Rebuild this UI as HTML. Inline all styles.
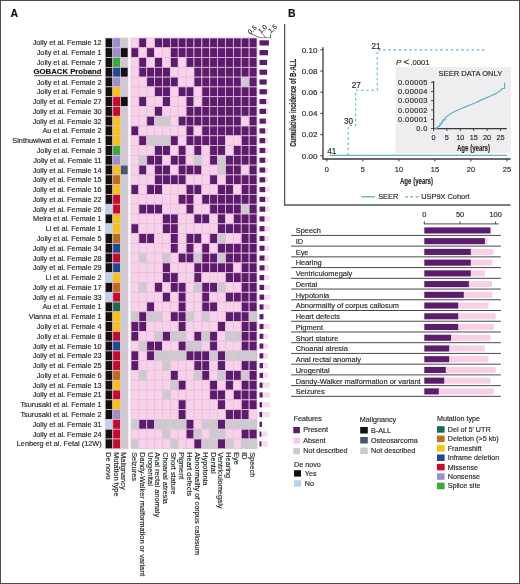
<!DOCTYPE html>
<html><head><meta charset="utf-8"><title>Figure</title>
<style>html,body{margin:0;padding:0;background:#fff;}body{width:520px;height:584px;position:relative;overflow:hidden;font-family:"Liberation Sans", sans-serif;} text{stroke:#2b2b2b;stroke-width:0.17px;}</style>
</head><body>
<svg width="520" height="584" viewBox="0 0 520 584" style="position:absolute;left:0;top:0;will-change:transform">
<g font-family='"Liberation Sans", sans-serif' fill="#2b2b2b" stroke="none">
<text x="10.6" y="17" font-size="10.5" font-weight="bold" fill="#111">A</text>
<text x="288" y="17.2" font-size="10.5" font-weight="bold" fill="#111">B</text>
<text x="101.6" y="45.39" font-size="7.3" text-anchor="end">Jolly et al. Female 12</text>
<rect x="105.20" y="38.00" width="7.60" height="9.78" fill="#111111" stroke="#e2c2dc" stroke-width="0.7"/>
<rect x="112.80" y="38.00" width="7.60" height="9.78" fill="#9990cf" stroke="#e2c2dc" stroke-width="0.7"/>
<rect x="120.40" y="38.00" width="7.60" height="9.78" fill="#cbcbce" stroke="#e2c2dc" stroke-width="0.7"/>
<rect x="131.00" y="38.00" width="7.875" height="9.78" fill="#f9d1e9" stroke="#e2c2dc" stroke-width="0.8"/>
<rect x="138.88" y="38.00" width="7.875" height="9.78" fill="#5d1b6d" stroke="#e2c2dc" stroke-width="0.8"/>
<rect x="146.75" y="38.00" width="7.875" height="9.78" fill="#f9d1e9" stroke="#e2c2dc" stroke-width="0.8"/>
<rect x="154.62" y="38.00" width="7.875" height="9.78" fill="#5d1b6d" stroke="#e2c2dc" stroke-width="0.8"/>
<rect x="162.50" y="38.00" width="7.875" height="9.78" fill="#5d1b6d" stroke="#e2c2dc" stroke-width="0.8"/>
<rect x="170.38" y="38.00" width="7.875" height="9.78" fill="#5d1b6d" stroke="#e2c2dc" stroke-width="0.8"/>
<rect x="178.25" y="38.00" width="7.875" height="9.78" fill="#5d1b6d" stroke="#e2c2dc" stroke-width="0.8"/>
<rect x="186.12" y="38.00" width="7.875" height="9.78" fill="#5d1b6d" stroke="#e2c2dc" stroke-width="0.8"/>
<rect x="194.00" y="38.00" width="7.875" height="9.78" fill="#5d1b6d" stroke="#e2c2dc" stroke-width="0.8"/>
<rect x="201.88" y="38.00" width="7.875" height="9.78" fill="#5d1b6d" stroke="#e2c2dc" stroke-width="0.8"/>
<rect x="209.75" y="38.00" width="7.875" height="9.78" fill="#5d1b6d" stroke="#e2c2dc" stroke-width="0.8"/>
<rect x="217.62" y="38.00" width="7.875" height="9.78" fill="#5d1b6d" stroke="#e2c2dc" stroke-width="0.8"/>
<rect x="225.50" y="38.00" width="7.875" height="9.78" fill="#5d1b6d" stroke="#e2c2dc" stroke-width="0.8"/>
<rect x="233.38" y="38.00" width="7.875" height="9.78" fill="#5d1b6d" stroke="#e2c2dc" stroke-width="0.8"/>
<rect x="241.25" y="38.00" width="7.875" height="9.78" fill="#5d1b6d" stroke="#e2c2dc" stroke-width="0.8"/>
<rect x="249.12" y="38.00" width="7.875" height="9.78" fill="#5d1b6d" stroke="#e2c2dc" stroke-width="0.8"/>
<text x="101.6" y="55.17" font-size="7.3" text-anchor="end">Jolly et al. Female 1</text>
<rect x="105.20" y="47.78" width="7.60" height="9.78" fill="#111111" stroke="#e2c2dc" stroke-width="0.7"/>
<rect x="112.80" y="47.78" width="7.60" height="9.78" fill="#9990cf" stroke="#e2c2dc" stroke-width="0.7"/>
<rect x="120.40" y="47.78" width="7.60" height="9.78" fill="#111111" stroke="#e2c2dc" stroke-width="0.7"/>
<rect x="131.00" y="47.78" width="7.875" height="9.78" fill="#5d1b6d" stroke="#e2c2dc" stroke-width="0.8"/>
<rect x="138.88" y="47.78" width="7.875" height="9.78" fill="#f9d1e9" stroke="#e2c2dc" stroke-width="0.8"/>
<rect x="146.75" y="47.78" width="7.875" height="9.78" fill="#5d1b6d" stroke="#e2c2dc" stroke-width="0.8"/>
<rect x="154.62" y="47.78" width="7.875" height="9.78" fill="#f9d1e9" stroke="#e2c2dc" stroke-width="0.8"/>
<rect x="162.50" y="47.78" width="7.875" height="9.78" fill="#f9d1e9" stroke="#e2c2dc" stroke-width="0.8"/>
<rect x="170.38" y="47.78" width="7.875" height="9.78" fill="#5d1b6d" stroke="#e2c2dc" stroke-width="0.8"/>
<rect x="178.25" y="47.78" width="7.875" height="9.78" fill="#5d1b6d" stroke="#e2c2dc" stroke-width="0.8"/>
<rect x="186.12" y="47.78" width="7.875" height="9.78" fill="#5d1b6d" stroke="#e2c2dc" stroke-width="0.8"/>
<rect x="194.00" y="47.78" width="7.875" height="9.78" fill="#5d1b6d" stroke="#e2c2dc" stroke-width="0.8"/>
<rect x="201.88" y="47.78" width="7.875" height="9.78" fill="#5d1b6d" stroke="#e2c2dc" stroke-width="0.8"/>
<rect x="209.75" y="47.78" width="7.875" height="9.78" fill="#5d1b6d" stroke="#e2c2dc" stroke-width="0.8"/>
<rect x="217.62" y="47.78" width="7.875" height="9.78" fill="#5d1b6d" stroke="#e2c2dc" stroke-width="0.8"/>
<rect x="225.50" y="47.78" width="7.875" height="9.78" fill="#5d1b6d" stroke="#e2c2dc" stroke-width="0.8"/>
<rect x="233.38" y="47.78" width="7.875" height="9.78" fill="#5d1b6d" stroke="#e2c2dc" stroke-width="0.8"/>
<rect x="241.25" y="47.78" width="7.875" height="9.78" fill="#5d1b6d" stroke="#e2c2dc" stroke-width="0.8"/>
<rect x="249.12" y="47.78" width="7.875" height="9.78" fill="#5d1b6d" stroke="#e2c2dc" stroke-width="0.8"/>
<text x="101.6" y="64.95" font-size="7.3" text-anchor="end">Jolly et al. Female 7</text>
<rect x="105.20" y="57.56" width="7.60" height="9.78" fill="#111111" stroke="#e2c2dc" stroke-width="0.7"/>
<rect x="112.80" y="57.56" width="7.60" height="9.78" fill="#3bab37" stroke="#e2c2dc" stroke-width="0.7"/>
<rect x="120.40" y="57.56" width="7.60" height="9.78" fill="#cbcbce" stroke="#e2c2dc" stroke-width="0.7"/>
<rect x="131.00" y="57.56" width="7.875" height="9.78" fill="#f9d1e9" stroke="#e2c2dc" stroke-width="0.8"/>
<rect x="138.88" y="57.56" width="7.875" height="9.78" fill="#5d1b6d" stroke="#e2c2dc" stroke-width="0.8"/>
<rect x="146.75" y="57.56" width="7.875" height="9.78" fill="#f9d1e9" stroke="#e2c2dc" stroke-width="0.8"/>
<rect x="154.62" y="57.56" width="7.875" height="9.78" fill="#5d1b6d" stroke="#e2c2dc" stroke-width="0.8"/>
<rect x="162.50" y="57.56" width="7.875" height="9.78" fill="#f9d1e9" stroke="#e2c2dc" stroke-width="0.8"/>
<rect x="170.38" y="57.56" width="7.875" height="9.78" fill="#5d1b6d" stroke="#e2c2dc" stroke-width="0.8"/>
<rect x="178.25" y="57.56" width="7.875" height="9.78" fill="#f9d1e9" stroke="#e2c2dc" stroke-width="0.8"/>
<rect x="186.12" y="57.56" width="7.875" height="9.78" fill="#5d1b6d" stroke="#e2c2dc" stroke-width="0.8"/>
<rect x="194.00" y="57.56" width="7.875" height="9.78" fill="#5d1b6d" stroke="#e2c2dc" stroke-width="0.8"/>
<rect x="201.88" y="57.56" width="7.875" height="9.78" fill="#5d1b6d" stroke="#e2c2dc" stroke-width="0.8"/>
<rect x="209.75" y="57.56" width="7.875" height="9.78" fill="#5d1b6d" stroke="#e2c2dc" stroke-width="0.8"/>
<rect x="217.62" y="57.56" width="7.875" height="9.78" fill="#5d1b6d" stroke="#e2c2dc" stroke-width="0.8"/>
<rect x="225.50" y="57.56" width="7.875" height="9.78" fill="#5d1b6d" stroke="#e2c2dc" stroke-width="0.8"/>
<rect x="233.38" y="57.56" width="7.875" height="9.78" fill="#5d1b6d" stroke="#e2c2dc" stroke-width="0.8"/>
<rect x="241.25" y="57.56" width="7.875" height="9.78" fill="#5d1b6d" stroke="#e2c2dc" stroke-width="0.8"/>
<rect x="249.12" y="57.56" width="7.875" height="9.78" fill="#5d1b6d" stroke="#e2c2dc" stroke-width="0.8"/>
<text x="101.6" y="74.43" font-size="7.75" font-weight="bold" text-anchor="end" fill="#111">GOBACK Proband</text>
<rect x="34.0" y="75.33" width="67.6" height="0.8" fill="#222"/>
<rect x="105.20" y="67.34" width="7.60" height="9.78" fill="#111111" stroke="#e2c2dc" stroke-width="0.7"/>
<rect x="112.80" y="67.34" width="7.60" height="9.78" fill="#1d4a95" stroke="#e2c2dc" stroke-width="0.7"/>
<rect x="120.40" y="67.34" width="7.60" height="9.78" fill="#111111" stroke="#e2c2dc" stroke-width="0.7"/>
<rect x="131.00" y="67.34" width="7.875" height="9.78" fill="#f9d1e9" stroke="#e2c2dc" stroke-width="0.8"/>
<rect x="138.88" y="67.34" width="7.875" height="9.78" fill="#5d1b6d" stroke="#e2c2dc" stroke-width="0.8"/>
<rect x="146.75" y="67.34" width="7.875" height="9.78" fill="#5d1b6d" stroke="#e2c2dc" stroke-width="0.8"/>
<rect x="154.62" y="67.34" width="7.875" height="9.78" fill="#5d1b6d" stroke="#e2c2dc" stroke-width="0.8"/>
<rect x="162.50" y="67.34" width="7.875" height="9.78" fill="#5d1b6d" stroke="#e2c2dc" stroke-width="0.8"/>
<rect x="170.38" y="67.34" width="7.875" height="9.78" fill="#f9d1e9" stroke="#e2c2dc" stroke-width="0.8"/>
<rect x="178.25" y="67.34" width="7.875" height="9.78" fill="#f9d1e9" stroke="#e2c2dc" stroke-width="0.8"/>
<rect x="186.12" y="67.34" width="7.875" height="9.78" fill="#f9d1e9" stroke="#e2c2dc" stroke-width="0.8"/>
<rect x="194.00" y="67.34" width="7.875" height="9.78" fill="#5d1b6d" stroke="#e2c2dc" stroke-width="0.8"/>
<rect x="201.88" y="67.34" width="7.875" height="9.78" fill="#5d1b6d" stroke="#e2c2dc" stroke-width="0.8"/>
<rect x="209.75" y="67.34" width="7.875" height="9.78" fill="#5d1b6d" stroke="#e2c2dc" stroke-width="0.8"/>
<rect x="217.62" y="67.34" width="7.875" height="9.78" fill="#5d1b6d" stroke="#e2c2dc" stroke-width="0.8"/>
<rect x="225.50" y="67.34" width="7.875" height="9.78" fill="#5d1b6d" stroke="#e2c2dc" stroke-width="0.8"/>
<rect x="233.38" y="67.34" width="7.875" height="9.78" fill="#5d1b6d" stroke="#e2c2dc" stroke-width="0.8"/>
<rect x="241.25" y="67.34" width="7.875" height="9.78" fill="#5d1b6d" stroke="#e2c2dc" stroke-width="0.8"/>
<rect x="249.12" y="67.34" width="7.875" height="9.78" fill="#5d1b6d" stroke="#e2c2dc" stroke-width="0.8"/>
<text x="101.6" y="84.51" font-size="7.3" text-anchor="end">Jolly et al. Female 2</text>
<rect x="105.20" y="77.12" width="7.60" height="9.78" fill="#111111" stroke="#e2c2dc" stroke-width="0.7"/>
<rect x="112.80" y="77.12" width="7.60" height="9.78" fill="#9990cf" stroke="#e2c2dc" stroke-width="0.7"/>
<rect x="120.40" y="77.12" width="7.60" height="9.78" fill="#cbcbce" stroke="#e2c2dc" stroke-width="0.7"/>
<rect x="131.00" y="77.12" width="7.875" height="9.78" fill="#f9d1e9" stroke="#e2c2dc" stroke-width="0.8"/>
<rect x="138.88" y="77.12" width="7.875" height="9.78" fill="#f9d1e9" stroke="#e2c2dc" stroke-width="0.8"/>
<rect x="146.75" y="77.12" width="7.875" height="9.78" fill="#5d1b6d" stroke="#e2c2dc" stroke-width="0.8"/>
<rect x="154.62" y="77.12" width="7.875" height="9.78" fill="#5d1b6d" stroke="#e2c2dc" stroke-width="0.8"/>
<rect x="162.50" y="77.12" width="7.875" height="9.78" fill="#5d1b6d" stroke="#e2c2dc" stroke-width="0.8"/>
<rect x="170.38" y="77.12" width="7.875" height="9.78" fill="#5d1b6d" stroke="#e2c2dc" stroke-width="0.8"/>
<rect x="178.25" y="77.12" width="7.875" height="9.78" fill="#f9d1e9" stroke="#e2c2dc" stroke-width="0.8"/>
<rect x="186.12" y="77.12" width="7.875" height="9.78" fill="#f9d1e9" stroke="#e2c2dc" stroke-width="0.8"/>
<rect x="194.00" y="77.12" width="7.875" height="9.78" fill="#5d1b6d" stroke="#e2c2dc" stroke-width="0.8"/>
<rect x="201.88" y="77.12" width="7.875" height="9.78" fill="#5d1b6d" stroke="#e2c2dc" stroke-width="0.8"/>
<rect x="209.75" y="77.12" width="7.875" height="9.78" fill="#5d1b6d" stroke="#e2c2dc" stroke-width="0.8"/>
<rect x="217.62" y="77.12" width="7.875" height="9.78" fill="#5d1b6d" stroke="#e2c2dc" stroke-width="0.8"/>
<rect x="225.50" y="77.12" width="7.875" height="9.78" fill="#5d1b6d" stroke="#e2c2dc" stroke-width="0.8"/>
<rect x="233.38" y="77.12" width="7.875" height="9.78" fill="#5d1b6d" stroke="#e2c2dc" stroke-width="0.8"/>
<rect x="241.25" y="77.12" width="7.875" height="9.78" fill="#cbcbce" stroke="#e2c2dc" stroke-width="0.8"/>
<rect x="249.12" y="77.12" width="7.875" height="9.78" fill="#5d1b6d" stroke="#e2c2dc" stroke-width="0.8"/>
<text x="101.6" y="94.29" font-size="7.3" text-anchor="end">Jolly et al. Female 9</text>
<rect x="105.20" y="86.90" width="7.60" height="9.78" fill="#111111" stroke="#e2c2dc" stroke-width="0.7"/>
<rect x="112.80" y="86.90" width="7.60" height="9.78" fill="#f9c20f" stroke="#e2c2dc" stroke-width="0.7"/>
<rect x="120.40" y="86.90" width="7.60" height="9.78" fill="#cbcbce" stroke="#e2c2dc" stroke-width="0.7"/>
<rect x="131.00" y="86.90" width="7.875" height="9.78" fill="#f9d1e9" stroke="#e2c2dc" stroke-width="0.8"/>
<rect x="138.88" y="86.90" width="7.875" height="9.78" fill="#f9d1e9" stroke="#e2c2dc" stroke-width="0.8"/>
<rect x="146.75" y="86.90" width="7.875" height="9.78" fill="#f9d1e9" stroke="#e2c2dc" stroke-width="0.8"/>
<rect x="154.62" y="86.90" width="7.875" height="9.78" fill="#5d1b6d" stroke="#e2c2dc" stroke-width="0.8"/>
<rect x="162.50" y="86.90" width="7.875" height="9.78" fill="#5d1b6d" stroke="#e2c2dc" stroke-width="0.8"/>
<rect x="170.38" y="86.90" width="7.875" height="9.78" fill="#f9d1e9" stroke="#e2c2dc" stroke-width="0.8"/>
<rect x="178.25" y="86.90" width="7.875" height="9.78" fill="#5d1b6d" stroke="#e2c2dc" stroke-width="0.8"/>
<rect x="186.12" y="86.90" width="7.875" height="9.78" fill="#5d1b6d" stroke="#e2c2dc" stroke-width="0.8"/>
<rect x="194.00" y="86.90" width="7.875" height="9.78" fill="#f9d1e9" stroke="#e2c2dc" stroke-width="0.8"/>
<rect x="201.88" y="86.90" width="7.875" height="9.78" fill="#5d1b6d" stroke="#e2c2dc" stroke-width="0.8"/>
<rect x="209.75" y="86.90" width="7.875" height="9.78" fill="#5d1b6d" stroke="#e2c2dc" stroke-width="0.8"/>
<rect x="217.62" y="86.90" width="7.875" height="9.78" fill="#5d1b6d" stroke="#e2c2dc" stroke-width="0.8"/>
<rect x="225.50" y="86.90" width="7.875" height="9.78" fill="#5d1b6d" stroke="#e2c2dc" stroke-width="0.8"/>
<rect x="233.38" y="86.90" width="7.875" height="9.78" fill="#5d1b6d" stroke="#e2c2dc" stroke-width="0.8"/>
<rect x="241.25" y="86.90" width="7.875" height="9.78" fill="#5d1b6d" stroke="#e2c2dc" stroke-width="0.8"/>
<rect x="249.12" y="86.90" width="7.875" height="9.78" fill="#5d1b6d" stroke="#e2c2dc" stroke-width="0.8"/>
<text x="101.6" y="104.07" font-size="7.3" text-anchor="end">Jolly et al. Female 27</text>
<rect x="105.20" y="96.68" width="7.60" height="9.78" fill="#111111" stroke="#e2c2dc" stroke-width="0.7"/>
<rect x="112.80" y="96.68" width="7.60" height="9.78" fill="#c70a2c" stroke="#e2c2dc" stroke-width="0.7"/>
<rect x="120.40" y="96.68" width="7.60" height="9.78" fill="#111111" stroke="#e2c2dc" stroke-width="0.7"/>
<rect x="131.00" y="96.68" width="7.875" height="9.78" fill="#f9d1e9" stroke="#e2c2dc" stroke-width="0.8"/>
<rect x="138.88" y="96.68" width="7.875" height="9.78" fill="#5d1b6d" stroke="#e2c2dc" stroke-width="0.8"/>
<rect x="146.75" y="96.68" width="7.875" height="9.78" fill="#f9d1e9" stroke="#e2c2dc" stroke-width="0.8"/>
<rect x="154.62" y="96.68" width="7.875" height="9.78" fill="#f9d1e9" stroke="#e2c2dc" stroke-width="0.8"/>
<rect x="162.50" y="96.68" width="7.875" height="9.78" fill="#5d1b6d" stroke="#e2c2dc" stroke-width="0.8"/>
<rect x="170.38" y="96.68" width="7.875" height="9.78" fill="#f9d1e9" stroke="#e2c2dc" stroke-width="0.8"/>
<rect x="178.25" y="96.68" width="7.875" height="9.78" fill="#f9d1e9" stroke="#e2c2dc" stroke-width="0.8"/>
<rect x="186.12" y="96.68" width="7.875" height="9.78" fill="#5d1b6d" stroke="#e2c2dc" stroke-width="0.8"/>
<rect x="194.00" y="96.68" width="7.875" height="9.78" fill="#f9d1e9" stroke="#e2c2dc" stroke-width="0.8"/>
<rect x="201.88" y="96.68" width="7.875" height="9.78" fill="#5d1b6d" stroke="#e2c2dc" stroke-width="0.8"/>
<rect x="209.75" y="96.68" width="7.875" height="9.78" fill="#5d1b6d" stroke="#e2c2dc" stroke-width="0.8"/>
<rect x="217.62" y="96.68" width="7.875" height="9.78" fill="#5d1b6d" stroke="#e2c2dc" stroke-width="0.8"/>
<rect x="225.50" y="96.68" width="7.875" height="9.78" fill="#5d1b6d" stroke="#e2c2dc" stroke-width="0.8"/>
<rect x="233.38" y="96.68" width="7.875" height="9.78" fill="#5d1b6d" stroke="#e2c2dc" stroke-width="0.8"/>
<rect x="241.25" y="96.68" width="7.875" height="9.78" fill="#5d1b6d" stroke="#e2c2dc" stroke-width="0.8"/>
<rect x="249.12" y="96.68" width="7.875" height="9.78" fill="#5d1b6d" stroke="#e2c2dc" stroke-width="0.8"/>
<text x="101.6" y="113.85" font-size="7.3" text-anchor="end">Jolly et al. Female 30</text>
<rect x="105.20" y="106.46" width="7.60" height="9.78" fill="#111111" stroke="#e2c2dc" stroke-width="0.7"/>
<rect x="112.80" y="106.46" width="7.60" height="9.78" fill="#c70a2c" stroke="#e2c2dc" stroke-width="0.7"/>
<rect x="120.40" y="106.46" width="7.60" height="9.78" fill="#cbcbce" stroke="#e2c2dc" stroke-width="0.7"/>
<rect x="131.00" y="106.46" width="7.875" height="9.78" fill="#f9d1e9" stroke="#e2c2dc" stroke-width="0.8"/>
<rect x="138.88" y="106.46" width="7.875" height="9.78" fill="#f9d1e9" stroke="#e2c2dc" stroke-width="0.8"/>
<rect x="146.75" y="106.46" width="7.875" height="9.78" fill="#f9d1e9" stroke="#e2c2dc" stroke-width="0.8"/>
<rect x="154.62" y="106.46" width="7.875" height="9.78" fill="#5d1b6d" stroke="#e2c2dc" stroke-width="0.8"/>
<rect x="162.50" y="106.46" width="7.875" height="9.78" fill="#f9d1e9" stroke="#e2c2dc" stroke-width="0.8"/>
<rect x="170.38" y="106.46" width="7.875" height="9.78" fill="#f9d1e9" stroke="#e2c2dc" stroke-width="0.8"/>
<rect x="178.25" y="106.46" width="7.875" height="9.78" fill="#f9d1e9" stroke="#e2c2dc" stroke-width="0.8"/>
<rect x="186.12" y="106.46" width="7.875" height="9.78" fill="#5d1b6d" stroke="#e2c2dc" stroke-width="0.8"/>
<rect x="194.00" y="106.46" width="7.875" height="9.78" fill="#5d1b6d" stroke="#e2c2dc" stroke-width="0.8"/>
<rect x="201.88" y="106.46" width="7.875" height="9.78" fill="#5d1b6d" stroke="#e2c2dc" stroke-width="0.8"/>
<rect x="209.75" y="106.46" width="7.875" height="9.78" fill="#5d1b6d" stroke="#e2c2dc" stroke-width="0.8"/>
<rect x="217.62" y="106.46" width="7.875" height="9.78" fill="#5d1b6d" stroke="#e2c2dc" stroke-width="0.8"/>
<rect x="225.50" y="106.46" width="7.875" height="9.78" fill="#5d1b6d" stroke="#e2c2dc" stroke-width="0.8"/>
<rect x="233.38" y="106.46" width="7.875" height="9.78" fill="#5d1b6d" stroke="#e2c2dc" stroke-width="0.8"/>
<rect x="241.25" y="106.46" width="7.875" height="9.78" fill="#5d1b6d" stroke="#e2c2dc" stroke-width="0.8"/>
<rect x="249.12" y="106.46" width="7.875" height="9.78" fill="#5d1b6d" stroke="#e2c2dc" stroke-width="0.8"/>
<text x="101.6" y="123.63" font-size="7.3" text-anchor="end">Jolly et al. Female 32</text>
<rect x="105.20" y="116.24" width="7.60" height="9.78" fill="#111111" stroke="#e2c2dc" stroke-width="0.7"/>
<rect x="112.80" y="116.24" width="7.60" height="9.78" fill="#f9c20f" stroke="#e2c2dc" stroke-width="0.7"/>
<rect x="120.40" y="116.24" width="7.60" height="9.78" fill="#cbcbce" stroke="#e2c2dc" stroke-width="0.7"/>
<rect x="131.00" y="116.24" width="7.875" height="9.78" fill="#f9d1e9" stroke="#e2c2dc" stroke-width="0.8"/>
<rect x="138.88" y="116.24" width="7.875" height="9.78" fill="#f9d1e9" stroke="#e2c2dc" stroke-width="0.8"/>
<rect x="146.75" y="116.24" width="7.875" height="9.78" fill="#5d1b6d" stroke="#e2c2dc" stroke-width="0.8"/>
<rect x="154.62" y="116.24" width="7.875" height="9.78" fill="#cbcbce" stroke="#e2c2dc" stroke-width="0.8"/>
<rect x="162.50" y="116.24" width="7.875" height="9.78" fill="#cbcbce" stroke="#e2c2dc" stroke-width="0.8"/>
<rect x="170.38" y="116.24" width="7.875" height="9.78" fill="#f9d1e9" stroke="#e2c2dc" stroke-width="0.8"/>
<rect x="178.25" y="116.24" width="7.875" height="9.78" fill="#5d1b6d" stroke="#e2c2dc" stroke-width="0.8"/>
<rect x="186.12" y="116.24" width="7.875" height="9.78" fill="#5d1b6d" stroke="#e2c2dc" stroke-width="0.8"/>
<rect x="194.00" y="116.24" width="7.875" height="9.78" fill="#5d1b6d" stroke="#e2c2dc" stroke-width="0.8"/>
<rect x="201.88" y="116.24" width="7.875" height="9.78" fill="#5d1b6d" stroke="#e2c2dc" stroke-width="0.8"/>
<rect x="209.75" y="116.24" width="7.875" height="9.78" fill="#5d1b6d" stroke="#e2c2dc" stroke-width="0.8"/>
<rect x="217.62" y="116.24" width="7.875" height="9.78" fill="#5d1b6d" stroke="#e2c2dc" stroke-width="0.8"/>
<rect x="225.50" y="116.24" width="7.875" height="9.78" fill="#5d1b6d" stroke="#e2c2dc" stroke-width="0.8"/>
<rect x="233.38" y="116.24" width="7.875" height="9.78" fill="#5d1b6d" stroke="#e2c2dc" stroke-width="0.8"/>
<rect x="241.25" y="116.24" width="7.875" height="9.78" fill="#f9d1e9" stroke="#e2c2dc" stroke-width="0.8"/>
<rect x="249.12" y="116.24" width="7.875" height="9.78" fill="#5d1b6d" stroke="#e2c2dc" stroke-width="0.8"/>
<text x="101.6" y="133.41" font-size="7.3" text-anchor="end">Au et al. Female 2</text>
<rect x="105.20" y="126.02" width="7.60" height="9.78" fill="#111111" stroke="#e2c2dc" stroke-width="0.7"/>
<rect x="112.80" y="126.02" width="7.60" height="9.78" fill="#f9c20f" stroke="#e2c2dc" stroke-width="0.7"/>
<rect x="120.40" y="126.02" width="7.60" height="9.78" fill="#cbcbce" stroke="#e2c2dc" stroke-width="0.7"/>
<rect x="131.00" y="126.02" width="7.875" height="9.78" fill="#5d1b6d" stroke="#e2c2dc" stroke-width="0.8"/>
<rect x="138.88" y="126.02" width="7.875" height="9.78" fill="#f9d1e9" stroke="#e2c2dc" stroke-width="0.8"/>
<rect x="146.75" y="126.02" width="7.875" height="9.78" fill="#f9d1e9" stroke="#e2c2dc" stroke-width="0.8"/>
<rect x="154.62" y="126.02" width="7.875" height="9.78" fill="#f9d1e9" stroke="#e2c2dc" stroke-width="0.8"/>
<rect x="162.50" y="126.02" width="7.875" height="9.78" fill="#f9d1e9" stroke="#e2c2dc" stroke-width="0.8"/>
<rect x="170.38" y="126.02" width="7.875" height="9.78" fill="#f9d1e9" stroke="#e2c2dc" stroke-width="0.8"/>
<rect x="178.25" y="126.02" width="7.875" height="9.78" fill="#f9d1e9" stroke="#e2c2dc" stroke-width="0.8"/>
<rect x="186.12" y="126.02" width="7.875" height="9.78" fill="#5d1b6d" stroke="#e2c2dc" stroke-width="0.8"/>
<rect x="194.00" y="126.02" width="7.875" height="9.78" fill="#f9d1e9" stroke="#e2c2dc" stroke-width="0.8"/>
<rect x="201.88" y="126.02" width="7.875" height="9.78" fill="#5d1b6d" stroke="#e2c2dc" stroke-width="0.8"/>
<rect x="209.75" y="126.02" width="7.875" height="9.78" fill="#5d1b6d" stroke="#e2c2dc" stroke-width="0.8"/>
<rect x="217.62" y="126.02" width="7.875" height="9.78" fill="#5d1b6d" stroke="#e2c2dc" stroke-width="0.8"/>
<rect x="225.50" y="126.02" width="7.875" height="9.78" fill="#5d1b6d" stroke="#e2c2dc" stroke-width="0.8"/>
<rect x="233.38" y="126.02" width="7.875" height="9.78" fill="#5d1b6d" stroke="#e2c2dc" stroke-width="0.8"/>
<rect x="241.25" y="126.02" width="7.875" height="9.78" fill="#5d1b6d" stroke="#e2c2dc" stroke-width="0.8"/>
<rect x="249.12" y="126.02" width="7.875" height="9.78" fill="#5d1b6d" stroke="#e2c2dc" stroke-width="0.8"/>
<text x="101.6" y="143.19" font-size="7.3" text-anchor="end">Sinthuwiwat et al. Female 1</text>
<rect x="105.20" y="135.80" width="7.60" height="9.78" fill="#111111" stroke="#e2c2dc" stroke-width="0.7"/>
<rect x="112.80" y="135.80" width="7.60" height="9.78" fill="#f9c20f" stroke="#e2c2dc" stroke-width="0.7"/>
<rect x="120.40" y="135.80" width="7.60" height="9.78" fill="#cbcbce" stroke="#e2c2dc" stroke-width="0.7"/>
<rect x="131.00" y="135.80" width="7.875" height="9.78" fill="#f9d1e9" stroke="#e2c2dc" stroke-width="0.8"/>
<rect x="138.88" y="135.80" width="7.875" height="9.78" fill="#5d1b6d" stroke="#e2c2dc" stroke-width="0.8"/>
<rect x="146.75" y="135.80" width="7.875" height="9.78" fill="#cbcbce" stroke="#e2c2dc" stroke-width="0.8"/>
<rect x="154.62" y="135.80" width="7.875" height="9.78" fill="#cbcbce" stroke="#e2c2dc" stroke-width="0.8"/>
<rect x="162.50" y="135.80" width="7.875" height="9.78" fill="#cbcbce" stroke="#e2c2dc" stroke-width="0.8"/>
<rect x="170.38" y="135.80" width="7.875" height="9.78" fill="#5d1b6d" stroke="#e2c2dc" stroke-width="0.8"/>
<rect x="178.25" y="135.80" width="7.875" height="9.78" fill="#f9d1e9" stroke="#e2c2dc" stroke-width="0.8"/>
<rect x="186.12" y="135.80" width="7.875" height="9.78" fill="#5d1b6d" stroke="#e2c2dc" stroke-width="0.8"/>
<rect x="194.00" y="135.80" width="7.875" height="9.78" fill="#5d1b6d" stroke="#e2c2dc" stroke-width="0.8"/>
<rect x="201.88" y="135.80" width="7.875" height="9.78" fill="#5d1b6d" stroke="#e2c2dc" stroke-width="0.8"/>
<rect x="209.75" y="135.80" width="7.875" height="9.78" fill="#5d1b6d" stroke="#e2c2dc" stroke-width="0.8"/>
<rect x="217.62" y="135.80" width="7.875" height="9.78" fill="#5d1b6d" stroke="#e2c2dc" stroke-width="0.8"/>
<rect x="225.50" y="135.80" width="7.875" height="9.78" fill="#f9d1e9" stroke="#e2c2dc" stroke-width="0.8"/>
<rect x="233.38" y="135.80" width="7.875" height="9.78" fill="#f9d1e9" stroke="#e2c2dc" stroke-width="0.8"/>
<rect x="241.25" y="135.80" width="7.875" height="9.78" fill="#5d1b6d" stroke="#e2c2dc" stroke-width="0.8"/>
<rect x="249.12" y="135.80" width="7.875" height="9.78" fill="#5d1b6d" stroke="#e2c2dc" stroke-width="0.8"/>
<text x="101.6" y="152.97" font-size="7.3" text-anchor="end">Jolly et al. Female 3</text>
<rect x="105.20" y="145.58" width="7.60" height="9.78" fill="#111111" stroke="#e2c2dc" stroke-width="0.7"/>
<rect x="112.80" y="145.58" width="7.60" height="9.78" fill="#3bab37" stroke="#e2c2dc" stroke-width="0.7"/>
<rect x="120.40" y="145.58" width="7.60" height="9.78" fill="#cbcbce" stroke="#e2c2dc" stroke-width="0.7"/>
<rect x="131.00" y="145.58" width="7.875" height="9.78" fill="#f9d1e9" stroke="#e2c2dc" stroke-width="0.8"/>
<rect x="138.88" y="145.58" width="7.875" height="9.78" fill="#f9d1e9" stroke="#e2c2dc" stroke-width="0.8"/>
<rect x="146.75" y="145.58" width="7.875" height="9.78" fill="#f9d1e9" stroke="#e2c2dc" stroke-width="0.8"/>
<rect x="154.62" y="145.58" width="7.875" height="9.78" fill="#5d1b6d" stroke="#e2c2dc" stroke-width="0.8"/>
<rect x="162.50" y="145.58" width="7.875" height="9.78" fill="#5d1b6d" stroke="#e2c2dc" stroke-width="0.8"/>
<rect x="170.38" y="145.58" width="7.875" height="9.78" fill="#f9d1e9" stroke="#e2c2dc" stroke-width="0.8"/>
<rect x="178.25" y="145.58" width="7.875" height="9.78" fill="#5d1b6d" stroke="#e2c2dc" stroke-width="0.8"/>
<rect x="186.12" y="145.58" width="7.875" height="9.78" fill="#f9d1e9" stroke="#e2c2dc" stroke-width="0.8"/>
<rect x="194.00" y="145.58" width="7.875" height="9.78" fill="#5d1b6d" stroke="#e2c2dc" stroke-width="0.8"/>
<rect x="201.88" y="145.58" width="7.875" height="9.78" fill="#f9d1e9" stroke="#e2c2dc" stroke-width="0.8"/>
<rect x="209.75" y="145.58" width="7.875" height="9.78" fill="#5d1b6d" stroke="#e2c2dc" stroke-width="0.8"/>
<rect x="217.62" y="145.58" width="7.875" height="9.78" fill="#5d1b6d" stroke="#e2c2dc" stroke-width="0.8"/>
<rect x="225.50" y="145.58" width="7.875" height="9.78" fill="#f9d1e9" stroke="#e2c2dc" stroke-width="0.8"/>
<rect x="233.38" y="145.58" width="7.875" height="9.78" fill="#5d1b6d" stroke="#e2c2dc" stroke-width="0.8"/>
<rect x="241.25" y="145.58" width="7.875" height="9.78" fill="#5d1b6d" stroke="#e2c2dc" stroke-width="0.8"/>
<rect x="249.12" y="145.58" width="7.875" height="9.78" fill="#5d1b6d" stroke="#e2c2dc" stroke-width="0.8"/>
<text x="101.6" y="162.75" font-size="7.3" text-anchor="end">Jolly et al. Female 11</text>
<rect x="105.20" y="155.36" width="7.60" height="9.78" fill="#111111" stroke="#e2c2dc" stroke-width="0.7"/>
<rect x="112.80" y="155.36" width="7.60" height="9.78" fill="#9990cf" stroke="#e2c2dc" stroke-width="0.7"/>
<rect x="120.40" y="155.36" width="7.60" height="9.78" fill="#cbcbce" stroke="#e2c2dc" stroke-width="0.7"/>
<rect x="131.00" y="155.36" width="7.875" height="9.78" fill="#f9d1e9" stroke="#e2c2dc" stroke-width="0.8"/>
<rect x="138.88" y="155.36" width="7.875" height="9.78" fill="#cbcbce" stroke="#e2c2dc" stroke-width="0.8"/>
<rect x="146.75" y="155.36" width="7.875" height="9.78" fill="#5d1b6d" stroke="#e2c2dc" stroke-width="0.8"/>
<rect x="154.62" y="155.36" width="7.875" height="9.78" fill="#5d1b6d" stroke="#e2c2dc" stroke-width="0.8"/>
<rect x="162.50" y="155.36" width="7.875" height="9.78" fill="#f9d1e9" stroke="#e2c2dc" stroke-width="0.8"/>
<rect x="170.38" y="155.36" width="7.875" height="9.78" fill="#5d1b6d" stroke="#e2c2dc" stroke-width="0.8"/>
<rect x="178.25" y="155.36" width="7.875" height="9.78" fill="#5d1b6d" stroke="#e2c2dc" stroke-width="0.8"/>
<rect x="186.12" y="155.36" width="7.875" height="9.78" fill="#f9d1e9" stroke="#e2c2dc" stroke-width="0.8"/>
<rect x="194.00" y="155.36" width="7.875" height="9.78" fill="#cbcbce" stroke="#e2c2dc" stroke-width="0.8"/>
<rect x="201.88" y="155.36" width="7.875" height="9.78" fill="#f9d1e9" stroke="#e2c2dc" stroke-width="0.8"/>
<rect x="209.75" y="155.36" width="7.875" height="9.78" fill="#5d1b6d" stroke="#e2c2dc" stroke-width="0.8"/>
<rect x="217.62" y="155.36" width="7.875" height="9.78" fill="#cbcbce" stroke="#e2c2dc" stroke-width="0.8"/>
<rect x="225.50" y="155.36" width="7.875" height="9.78" fill="#5d1b6d" stroke="#e2c2dc" stroke-width="0.8"/>
<rect x="233.38" y="155.36" width="7.875" height="9.78" fill="#5d1b6d" stroke="#e2c2dc" stroke-width="0.8"/>
<rect x="241.25" y="155.36" width="7.875" height="9.78" fill="#5d1b6d" stroke="#e2c2dc" stroke-width="0.8"/>
<rect x="249.12" y="155.36" width="7.875" height="9.78" fill="#5d1b6d" stroke="#e2c2dc" stroke-width="0.8"/>
<text x="101.6" y="172.53" font-size="7.3" text-anchor="end">Jolly et al. Female 14</text>
<rect x="105.20" y="165.14" width="7.60" height="9.78" fill="#111111" stroke="#e2c2dc" stroke-width="0.7"/>
<rect x="112.80" y="165.14" width="7.60" height="9.78" fill="#f9c20f" stroke="#e2c2dc" stroke-width="0.7"/>
<rect x="120.40" y="165.14" width="7.60" height="9.78" fill="#4a566c" stroke="#e2c2dc" stroke-width="0.7"/>
<rect x="131.00" y="165.14" width="7.875" height="9.78" fill="#f9d1e9" stroke="#e2c2dc" stroke-width="0.8"/>
<rect x="138.88" y="165.14" width="7.875" height="9.78" fill="#5d1b6d" stroke="#e2c2dc" stroke-width="0.8"/>
<rect x="146.75" y="165.14" width="7.875" height="9.78" fill="#f9d1e9" stroke="#e2c2dc" stroke-width="0.8"/>
<rect x="154.62" y="165.14" width="7.875" height="9.78" fill="#5d1b6d" stroke="#e2c2dc" stroke-width="0.8"/>
<rect x="162.50" y="165.14" width="7.875" height="9.78" fill="#5d1b6d" stroke="#e2c2dc" stroke-width="0.8"/>
<rect x="170.38" y="165.14" width="7.875" height="9.78" fill="#f9d1e9" stroke="#e2c2dc" stroke-width="0.8"/>
<rect x="178.25" y="165.14" width="7.875" height="9.78" fill="#5d1b6d" stroke="#e2c2dc" stroke-width="0.8"/>
<rect x="186.12" y="165.14" width="7.875" height="9.78" fill="#5d1b6d" stroke="#e2c2dc" stroke-width="0.8"/>
<rect x="194.00" y="165.14" width="7.875" height="9.78" fill="#5d1b6d" stroke="#e2c2dc" stroke-width="0.8"/>
<rect x="201.88" y="165.14" width="7.875" height="9.78" fill="#f9d1e9" stroke="#e2c2dc" stroke-width="0.8"/>
<rect x="209.75" y="165.14" width="7.875" height="9.78" fill="#f9d1e9" stroke="#e2c2dc" stroke-width="0.8"/>
<rect x="217.62" y="165.14" width="7.875" height="9.78" fill="#cbcbce" stroke="#e2c2dc" stroke-width="0.8"/>
<rect x="225.50" y="165.14" width="7.875" height="9.78" fill="#5d1b6d" stroke="#e2c2dc" stroke-width="0.8"/>
<rect x="233.38" y="165.14" width="7.875" height="9.78" fill="#5d1b6d" stroke="#e2c2dc" stroke-width="0.8"/>
<rect x="241.25" y="165.14" width="7.875" height="9.78" fill="#f9d1e9" stroke="#e2c2dc" stroke-width="0.8"/>
<rect x="249.12" y="165.14" width="7.875" height="9.78" fill="#5d1b6d" stroke="#e2c2dc" stroke-width="0.8"/>
<text x="101.6" y="182.31" font-size="7.3" text-anchor="end">Jolly et al. Female 15</text>
<rect x="105.20" y="174.92" width="7.60" height="9.78" fill="#111111" stroke="#e2c2dc" stroke-width="0.7"/>
<rect x="112.80" y="174.92" width="7.60" height="9.78" fill="#be6b1c" stroke="#e2c2dc" stroke-width="0.7"/>
<rect x="120.40" y="174.92" width="7.60" height="9.78" fill="#cbcbce" stroke="#e2c2dc" stroke-width="0.7"/>
<rect x="131.00" y="174.92" width="7.875" height="9.78" fill="#f9d1e9" stroke="#e2c2dc" stroke-width="0.8"/>
<rect x="138.88" y="174.92" width="7.875" height="9.78" fill="#f9d1e9" stroke="#e2c2dc" stroke-width="0.8"/>
<rect x="146.75" y="174.92" width="7.875" height="9.78" fill="#f9d1e9" stroke="#e2c2dc" stroke-width="0.8"/>
<rect x="154.62" y="174.92" width="7.875" height="9.78" fill="#5d1b6d" stroke="#e2c2dc" stroke-width="0.8"/>
<rect x="162.50" y="174.92" width="7.875" height="9.78" fill="#5d1b6d" stroke="#e2c2dc" stroke-width="0.8"/>
<rect x="170.38" y="174.92" width="7.875" height="9.78" fill="#5d1b6d" stroke="#e2c2dc" stroke-width="0.8"/>
<rect x="178.25" y="174.92" width="7.875" height="9.78" fill="#5d1b6d" stroke="#e2c2dc" stroke-width="0.8"/>
<rect x="186.12" y="174.92" width="7.875" height="9.78" fill="#f9d1e9" stroke="#e2c2dc" stroke-width="0.8"/>
<rect x="194.00" y="174.92" width="7.875" height="9.78" fill="#f9d1e9" stroke="#e2c2dc" stroke-width="0.8"/>
<rect x="201.88" y="174.92" width="7.875" height="9.78" fill="#f9d1e9" stroke="#e2c2dc" stroke-width="0.8"/>
<rect x="209.75" y="174.92" width="7.875" height="9.78" fill="#5d1b6d" stroke="#e2c2dc" stroke-width="0.8"/>
<rect x="217.62" y="174.92" width="7.875" height="9.78" fill="#f9d1e9" stroke="#e2c2dc" stroke-width="0.8"/>
<rect x="225.50" y="174.92" width="7.875" height="9.78" fill="#5d1b6d" stroke="#e2c2dc" stroke-width="0.8"/>
<rect x="233.38" y="174.92" width="7.875" height="9.78" fill="#5d1b6d" stroke="#e2c2dc" stroke-width="0.8"/>
<rect x="241.25" y="174.92" width="7.875" height="9.78" fill="#5d1b6d" stroke="#e2c2dc" stroke-width="0.8"/>
<rect x="249.12" y="174.92" width="7.875" height="9.78" fill="#5d1b6d" stroke="#e2c2dc" stroke-width="0.8"/>
<text x="101.6" y="192.09" font-size="7.3" text-anchor="end">Jolly et al. Female 16</text>
<rect x="105.20" y="184.70" width="7.60" height="9.78" fill="#111111" stroke="#e2c2dc" stroke-width="0.7"/>
<rect x="112.80" y="184.70" width="7.60" height="9.78" fill="#f9c20f" stroke="#e2c2dc" stroke-width="0.7"/>
<rect x="120.40" y="184.70" width="7.60" height="9.78" fill="#cbcbce" stroke="#e2c2dc" stroke-width="0.7"/>
<rect x="131.00" y="184.70" width="7.875" height="9.78" fill="#5d1b6d" stroke="#e2c2dc" stroke-width="0.8"/>
<rect x="138.88" y="184.70" width="7.875" height="9.78" fill="#f9d1e9" stroke="#e2c2dc" stroke-width="0.8"/>
<rect x="146.75" y="184.70" width="7.875" height="9.78" fill="#5d1b6d" stroke="#e2c2dc" stroke-width="0.8"/>
<rect x="154.62" y="184.70" width="7.875" height="9.78" fill="#5d1b6d" stroke="#e2c2dc" stroke-width="0.8"/>
<rect x="162.50" y="184.70" width="7.875" height="9.78" fill="#f9d1e9" stroke="#e2c2dc" stroke-width="0.8"/>
<rect x="170.38" y="184.70" width="7.875" height="9.78" fill="#f9d1e9" stroke="#e2c2dc" stroke-width="0.8"/>
<rect x="178.25" y="184.70" width="7.875" height="9.78" fill="#f9d1e9" stroke="#e2c2dc" stroke-width="0.8"/>
<rect x="186.12" y="184.70" width="7.875" height="9.78" fill="#5d1b6d" stroke="#e2c2dc" stroke-width="0.8"/>
<rect x="194.00" y="184.70" width="7.875" height="9.78" fill="#5d1b6d" stroke="#e2c2dc" stroke-width="0.8"/>
<rect x="201.88" y="184.70" width="7.875" height="9.78" fill="#f9d1e9" stroke="#e2c2dc" stroke-width="0.8"/>
<rect x="209.75" y="184.70" width="7.875" height="9.78" fill="#f9d1e9" stroke="#e2c2dc" stroke-width="0.8"/>
<rect x="217.62" y="184.70" width="7.875" height="9.78" fill="#5d1b6d" stroke="#e2c2dc" stroke-width="0.8"/>
<rect x="225.50" y="184.70" width="7.875" height="9.78" fill="#5d1b6d" stroke="#e2c2dc" stroke-width="0.8"/>
<rect x="233.38" y="184.70" width="7.875" height="9.78" fill="#f9d1e9" stroke="#e2c2dc" stroke-width="0.8"/>
<rect x="241.25" y="184.70" width="7.875" height="9.78" fill="#5d1b6d" stroke="#e2c2dc" stroke-width="0.8"/>
<rect x="249.12" y="184.70" width="7.875" height="9.78" fill="#5d1b6d" stroke="#e2c2dc" stroke-width="0.8"/>
<text x="101.6" y="201.87" font-size="7.3" text-anchor="end">Jolly et al. Female 22</text>
<rect x="105.20" y="194.48" width="7.60" height="9.78" fill="#111111" stroke="#e2c2dc" stroke-width="0.7"/>
<rect x="112.80" y="194.48" width="7.60" height="9.78" fill="#c70a2c" stroke="#e2c2dc" stroke-width="0.7"/>
<rect x="120.40" y="194.48" width="7.60" height="9.78" fill="#cbcbce" stroke="#e2c2dc" stroke-width="0.7"/>
<rect x="131.00" y="194.48" width="7.875" height="9.78" fill="#f9d1e9" stroke="#e2c2dc" stroke-width="0.8"/>
<rect x="138.88" y="194.48" width="7.875" height="9.78" fill="#f9d1e9" stroke="#e2c2dc" stroke-width="0.8"/>
<rect x="146.75" y="194.48" width="7.875" height="9.78" fill="#f9d1e9" stroke="#e2c2dc" stroke-width="0.8"/>
<rect x="154.62" y="194.48" width="7.875" height="9.78" fill="#f9d1e9" stroke="#e2c2dc" stroke-width="0.8"/>
<rect x="162.50" y="194.48" width="7.875" height="9.78" fill="#f9d1e9" stroke="#e2c2dc" stroke-width="0.8"/>
<rect x="170.38" y="194.48" width="7.875" height="9.78" fill="#f9d1e9" stroke="#e2c2dc" stroke-width="0.8"/>
<rect x="178.25" y="194.48" width="7.875" height="9.78" fill="#5d1b6d" stroke="#e2c2dc" stroke-width="0.8"/>
<rect x="186.12" y="194.48" width="7.875" height="9.78" fill="#5d1b6d" stroke="#e2c2dc" stroke-width="0.8"/>
<rect x="194.00" y="194.48" width="7.875" height="9.78" fill="#f9d1e9" stroke="#e2c2dc" stroke-width="0.8"/>
<rect x="201.88" y="194.48" width="7.875" height="9.78" fill="#5d1b6d" stroke="#e2c2dc" stroke-width="0.8"/>
<rect x="209.75" y="194.48" width="7.875" height="9.78" fill="#5d1b6d" stroke="#e2c2dc" stroke-width="0.8"/>
<rect x="217.62" y="194.48" width="7.875" height="9.78" fill="#5d1b6d" stroke="#e2c2dc" stroke-width="0.8"/>
<rect x="225.50" y="194.48" width="7.875" height="9.78" fill="#5d1b6d" stroke="#e2c2dc" stroke-width="0.8"/>
<rect x="233.38" y="194.48" width="7.875" height="9.78" fill="#5d1b6d" stroke="#e2c2dc" stroke-width="0.8"/>
<rect x="241.25" y="194.48" width="7.875" height="9.78" fill="#5d1b6d" stroke="#e2c2dc" stroke-width="0.8"/>
<rect x="249.12" y="194.48" width="7.875" height="9.78" fill="#5d1b6d" stroke="#e2c2dc" stroke-width="0.8"/>
<text x="101.6" y="211.65" font-size="7.3" text-anchor="end">Jolly et al. Female 26</text>
<rect x="105.20" y="204.26" width="7.60" height="9.78" fill="#b6d5ee" stroke="#e2c2dc" stroke-width="0.7"/>
<rect x="112.80" y="204.26" width="7.60" height="9.78" fill="#c70a2c" stroke="#e2c2dc" stroke-width="0.7"/>
<rect x="120.40" y="204.26" width="7.60" height="9.78" fill="#cbcbce" stroke="#e2c2dc" stroke-width="0.7"/>
<rect x="131.00" y="204.26" width="7.875" height="9.78" fill="#f9d1e9" stroke="#e2c2dc" stroke-width="0.8"/>
<rect x="138.88" y="204.26" width="7.875" height="9.78" fill="#5d1b6d" stroke="#e2c2dc" stroke-width="0.8"/>
<rect x="146.75" y="204.26" width="7.875" height="9.78" fill="#5d1b6d" stroke="#e2c2dc" stroke-width="0.8"/>
<rect x="154.62" y="204.26" width="7.875" height="9.78" fill="#5d1b6d" stroke="#e2c2dc" stroke-width="0.8"/>
<rect x="162.50" y="204.26" width="7.875" height="9.78" fill="#f9d1e9" stroke="#e2c2dc" stroke-width="0.8"/>
<rect x="170.38" y="204.26" width="7.875" height="9.78" fill="#f9d1e9" stroke="#e2c2dc" stroke-width="0.8"/>
<rect x="178.25" y="204.26" width="7.875" height="9.78" fill="#f9d1e9" stroke="#e2c2dc" stroke-width="0.8"/>
<rect x="186.12" y="204.26" width="7.875" height="9.78" fill="#5d1b6d" stroke="#e2c2dc" stroke-width="0.8"/>
<rect x="194.00" y="204.26" width="7.875" height="9.78" fill="#f9d1e9" stroke="#e2c2dc" stroke-width="0.8"/>
<rect x="201.88" y="204.26" width="7.875" height="9.78" fill="#f9d1e9" stroke="#e2c2dc" stroke-width="0.8"/>
<rect x="209.75" y="204.26" width="7.875" height="9.78" fill="#5d1b6d" stroke="#e2c2dc" stroke-width="0.8"/>
<rect x="217.62" y="204.26" width="7.875" height="9.78" fill="#5d1b6d" stroke="#e2c2dc" stroke-width="0.8"/>
<rect x="225.50" y="204.26" width="7.875" height="9.78" fill="#5d1b6d" stroke="#e2c2dc" stroke-width="0.8"/>
<rect x="233.38" y="204.26" width="7.875" height="9.78" fill="#5d1b6d" stroke="#e2c2dc" stroke-width="0.8"/>
<rect x="241.25" y="204.26" width="7.875" height="9.78" fill="#cbcbce" stroke="#e2c2dc" stroke-width="0.8"/>
<rect x="249.12" y="204.26" width="7.875" height="9.78" fill="#5d1b6d" stroke="#e2c2dc" stroke-width="0.8"/>
<text x="101.6" y="221.43" font-size="7.3" text-anchor="end">Meira et al. Female 1</text>
<rect x="105.20" y="214.04" width="7.60" height="9.78" fill="#111111" stroke="#e2c2dc" stroke-width="0.7"/>
<rect x="112.80" y="214.04" width="7.60" height="9.78" fill="#f9c20f" stroke="#e2c2dc" stroke-width="0.7"/>
<rect x="120.40" y="214.04" width="7.60" height="9.78" fill="#cbcbce" stroke="#e2c2dc" stroke-width="0.7"/>
<rect x="131.00" y="214.04" width="7.875" height="9.78" fill="#f9d1e9" stroke="#e2c2dc" stroke-width="0.8"/>
<rect x="138.88" y="214.04" width="7.875" height="9.78" fill="#f9d1e9" stroke="#e2c2dc" stroke-width="0.8"/>
<rect x="146.75" y="214.04" width="7.875" height="9.78" fill="#f9d1e9" stroke="#e2c2dc" stroke-width="0.8"/>
<rect x="154.62" y="214.04" width="7.875" height="9.78" fill="#f9d1e9" stroke="#e2c2dc" stroke-width="0.8"/>
<rect x="162.50" y="214.04" width="7.875" height="9.78" fill="#5d1b6d" stroke="#e2c2dc" stroke-width="0.8"/>
<rect x="170.38" y="214.04" width="7.875" height="9.78" fill="#5d1b6d" stroke="#e2c2dc" stroke-width="0.8"/>
<rect x="178.25" y="214.04" width="7.875" height="9.78" fill="#f9d1e9" stroke="#e2c2dc" stroke-width="0.8"/>
<rect x="186.12" y="214.04" width="7.875" height="9.78" fill="#f9d1e9" stroke="#e2c2dc" stroke-width="0.8"/>
<rect x="194.00" y="214.04" width="7.875" height="9.78" fill="#5d1b6d" stroke="#e2c2dc" stroke-width="0.8"/>
<rect x="201.88" y="214.04" width="7.875" height="9.78" fill="#5d1b6d" stroke="#e2c2dc" stroke-width="0.8"/>
<rect x="209.75" y="214.04" width="7.875" height="9.78" fill="#f9d1e9" stroke="#e2c2dc" stroke-width="0.8"/>
<rect x="217.62" y="214.04" width="7.875" height="9.78" fill="#5d1b6d" stroke="#e2c2dc" stroke-width="0.8"/>
<rect x="225.50" y="214.04" width="7.875" height="9.78" fill="#f9d1e9" stroke="#e2c2dc" stroke-width="0.8"/>
<rect x="233.38" y="214.04" width="7.875" height="9.78" fill="#5d1b6d" stroke="#e2c2dc" stroke-width="0.8"/>
<rect x="241.25" y="214.04" width="7.875" height="9.78" fill="#5d1b6d" stroke="#e2c2dc" stroke-width="0.8"/>
<rect x="249.12" y="214.04" width="7.875" height="9.78" fill="#5d1b6d" stroke="#e2c2dc" stroke-width="0.8"/>
<text x="101.6" y="231.21" font-size="7.3" text-anchor="end">Li et al. Female 1</text>
<rect x="105.20" y="223.82" width="7.60" height="9.78" fill="#b6d5ee" stroke="#e2c2dc" stroke-width="0.7"/>
<rect x="112.80" y="223.82" width="7.60" height="9.78" fill="#f9c20f" stroke="#e2c2dc" stroke-width="0.7"/>
<rect x="120.40" y="223.82" width="7.60" height="9.78" fill="#cbcbce" stroke="#e2c2dc" stroke-width="0.7"/>
<rect x="131.00" y="223.82" width="7.875" height="9.78" fill="#5d1b6d" stroke="#e2c2dc" stroke-width="0.8"/>
<rect x="138.88" y="223.82" width="7.875" height="9.78" fill="#f9d1e9" stroke="#e2c2dc" stroke-width="0.8"/>
<rect x="146.75" y="223.82" width="7.875" height="9.78" fill="#f9d1e9" stroke="#e2c2dc" stroke-width="0.8"/>
<rect x="154.62" y="223.82" width="7.875" height="9.78" fill="#f9d1e9" stroke="#e2c2dc" stroke-width="0.8"/>
<rect x="162.50" y="223.82" width="7.875" height="9.78" fill="#5d1b6d" stroke="#e2c2dc" stroke-width="0.8"/>
<rect x="170.38" y="223.82" width="7.875" height="9.78" fill="#5d1b6d" stroke="#e2c2dc" stroke-width="0.8"/>
<rect x="178.25" y="223.82" width="7.875" height="9.78" fill="#f9d1e9" stroke="#e2c2dc" stroke-width="0.8"/>
<rect x="186.12" y="223.82" width="7.875" height="9.78" fill="#f9d1e9" stroke="#e2c2dc" stroke-width="0.8"/>
<rect x="194.00" y="223.82" width="7.875" height="9.78" fill="#f9d1e9" stroke="#e2c2dc" stroke-width="0.8"/>
<rect x="201.88" y="223.82" width="7.875" height="9.78" fill="#f9d1e9" stroke="#e2c2dc" stroke-width="0.8"/>
<rect x="209.75" y="223.82" width="7.875" height="9.78" fill="#f9d1e9" stroke="#e2c2dc" stroke-width="0.8"/>
<rect x="217.62" y="223.82" width="7.875" height="9.78" fill="#5d1b6d" stroke="#e2c2dc" stroke-width="0.8"/>
<rect x="225.50" y="223.82" width="7.875" height="9.78" fill="#5d1b6d" stroke="#e2c2dc" stroke-width="0.8"/>
<rect x="233.38" y="223.82" width="7.875" height="9.78" fill="#5d1b6d" stroke="#e2c2dc" stroke-width="0.8"/>
<rect x="241.25" y="223.82" width="7.875" height="9.78" fill="#5d1b6d" stroke="#e2c2dc" stroke-width="0.8"/>
<rect x="249.12" y="223.82" width="7.875" height="9.78" fill="#5d1b6d" stroke="#e2c2dc" stroke-width="0.8"/>
<text x="101.6" y="240.99" font-size="7.3" text-anchor="end">Jolly et al. Female 5</text>
<rect x="105.20" y="233.60" width="7.60" height="9.78" fill="#111111" stroke="#e2c2dc" stroke-width="0.7"/>
<rect x="112.80" y="233.60" width="7.60" height="9.78" fill="#be6b1c" stroke="#e2c2dc" stroke-width="0.7"/>
<rect x="120.40" y="233.60" width="7.60" height="9.78" fill="#cbcbce" stroke="#e2c2dc" stroke-width="0.7"/>
<rect x="131.00" y="233.60" width="7.875" height="9.78" fill="#f9d1e9" stroke="#e2c2dc" stroke-width="0.8"/>
<rect x="138.88" y="233.60" width="7.875" height="9.78" fill="#5d1b6d" stroke="#e2c2dc" stroke-width="0.8"/>
<rect x="146.75" y="233.60" width="7.875" height="9.78" fill="#5d1b6d" stroke="#e2c2dc" stroke-width="0.8"/>
<rect x="154.62" y="233.60" width="7.875" height="9.78" fill="#f9d1e9" stroke="#e2c2dc" stroke-width="0.8"/>
<rect x="162.50" y="233.60" width="7.875" height="9.78" fill="#f9d1e9" stroke="#e2c2dc" stroke-width="0.8"/>
<rect x="170.38" y="233.60" width="7.875" height="9.78" fill="#5d1b6d" stroke="#e2c2dc" stroke-width="0.8"/>
<rect x="178.25" y="233.60" width="7.875" height="9.78" fill="#f9d1e9" stroke="#e2c2dc" stroke-width="0.8"/>
<rect x="186.12" y="233.60" width="7.875" height="9.78" fill="#5d1b6d" stroke="#e2c2dc" stroke-width="0.8"/>
<rect x="194.00" y="233.60" width="7.875" height="9.78" fill="#5d1b6d" stroke="#e2c2dc" stroke-width="0.8"/>
<rect x="201.88" y="233.60" width="7.875" height="9.78" fill="#f9d1e9" stroke="#e2c2dc" stroke-width="0.8"/>
<rect x="209.75" y="233.60" width="7.875" height="9.78" fill="#5d1b6d" stroke="#e2c2dc" stroke-width="0.8"/>
<rect x="217.62" y="233.60" width="7.875" height="9.78" fill="#cbcbce" stroke="#e2c2dc" stroke-width="0.8"/>
<rect x="225.50" y="233.60" width="7.875" height="9.78" fill="#f9d1e9" stroke="#e2c2dc" stroke-width="0.8"/>
<rect x="233.38" y="233.60" width="7.875" height="9.78" fill="#f9d1e9" stroke="#e2c2dc" stroke-width="0.8"/>
<rect x="241.25" y="233.60" width="7.875" height="9.78" fill="#5d1b6d" stroke="#e2c2dc" stroke-width="0.8"/>
<rect x="249.12" y="233.60" width="7.875" height="9.78" fill="#5d1b6d" stroke="#e2c2dc" stroke-width="0.8"/>
<text x="101.6" y="250.77" font-size="7.3" text-anchor="end">Jolly et al. Female 34</text>
<rect x="105.20" y="243.38" width="7.60" height="9.78" fill="#111111" stroke="#e2c2dc" stroke-width="0.7"/>
<rect x="112.80" y="243.38" width="7.60" height="9.78" fill="#1d4a95" stroke="#e2c2dc" stroke-width="0.7"/>
<rect x="120.40" y="243.38" width="7.60" height="9.78" fill="#cbcbce" stroke="#e2c2dc" stroke-width="0.7"/>
<rect x="131.00" y="243.38" width="7.875" height="9.78" fill="#f9d1e9" stroke="#e2c2dc" stroke-width="0.8"/>
<rect x="138.88" y="243.38" width="7.875" height="9.78" fill="#f9d1e9" stroke="#e2c2dc" stroke-width="0.8"/>
<rect x="146.75" y="243.38" width="7.875" height="9.78" fill="#f9d1e9" stroke="#e2c2dc" stroke-width="0.8"/>
<rect x="154.62" y="243.38" width="7.875" height="9.78" fill="#f9d1e9" stroke="#e2c2dc" stroke-width="0.8"/>
<rect x="162.50" y="243.38" width="7.875" height="9.78" fill="#f9d1e9" stroke="#e2c2dc" stroke-width="0.8"/>
<rect x="170.38" y="243.38" width="7.875" height="9.78" fill="#5d1b6d" stroke="#e2c2dc" stroke-width="0.8"/>
<rect x="178.25" y="243.38" width="7.875" height="9.78" fill="#f9d1e9" stroke="#e2c2dc" stroke-width="0.8"/>
<rect x="186.12" y="243.38" width="7.875" height="9.78" fill="#5d1b6d" stroke="#e2c2dc" stroke-width="0.8"/>
<rect x="194.00" y="243.38" width="7.875" height="9.78" fill="#f9d1e9" stroke="#e2c2dc" stroke-width="0.8"/>
<rect x="201.88" y="243.38" width="7.875" height="9.78" fill="#5d1b6d" stroke="#e2c2dc" stroke-width="0.8"/>
<rect x="209.75" y="243.38" width="7.875" height="9.78" fill="#f9d1e9" stroke="#e2c2dc" stroke-width="0.8"/>
<rect x="217.62" y="243.38" width="7.875" height="9.78" fill="#5d1b6d" stroke="#e2c2dc" stroke-width="0.8"/>
<rect x="225.50" y="243.38" width="7.875" height="9.78" fill="#5d1b6d" stroke="#e2c2dc" stroke-width="0.8"/>
<rect x="233.38" y="243.38" width="7.875" height="9.78" fill="#5d1b6d" stroke="#e2c2dc" stroke-width="0.8"/>
<rect x="241.25" y="243.38" width="7.875" height="9.78" fill="#5d1b6d" stroke="#e2c2dc" stroke-width="0.8"/>
<rect x="249.12" y="243.38" width="7.875" height="9.78" fill="#5d1b6d" stroke="#e2c2dc" stroke-width="0.8"/>
<text x="101.6" y="260.55" font-size="7.3" text-anchor="end">Jolly et al. Female 28</text>
<rect x="105.20" y="253.16" width="7.60" height="9.78" fill="#111111" stroke="#e2c2dc" stroke-width="0.7"/>
<rect x="112.80" y="253.16" width="7.60" height="9.78" fill="#c70a2c" stroke="#e2c2dc" stroke-width="0.7"/>
<rect x="120.40" y="253.16" width="7.60" height="9.78" fill="#cbcbce" stroke="#e2c2dc" stroke-width="0.7"/>
<rect x="131.00" y="253.16" width="7.875" height="9.78" fill="#f9d1e9" stroke="#e2c2dc" stroke-width="0.8"/>
<rect x="138.88" y="253.16" width="7.875" height="9.78" fill="#cbcbce" stroke="#e2c2dc" stroke-width="0.8"/>
<rect x="146.75" y="253.16" width="7.875" height="9.78" fill="#f9d1e9" stroke="#e2c2dc" stroke-width="0.8"/>
<rect x="154.62" y="253.16" width="7.875" height="9.78" fill="#f9d1e9" stroke="#e2c2dc" stroke-width="0.8"/>
<rect x="162.50" y="253.16" width="7.875" height="9.78" fill="#cbcbce" stroke="#e2c2dc" stroke-width="0.8"/>
<rect x="170.38" y="253.16" width="7.875" height="9.78" fill="#f9d1e9" stroke="#e2c2dc" stroke-width="0.8"/>
<rect x="178.25" y="253.16" width="7.875" height="9.78" fill="#5d1b6d" stroke="#e2c2dc" stroke-width="0.8"/>
<rect x="186.12" y="253.16" width="7.875" height="9.78" fill="#5d1b6d" stroke="#e2c2dc" stroke-width="0.8"/>
<rect x="194.00" y="253.16" width="7.875" height="9.78" fill="#cbcbce" stroke="#e2c2dc" stroke-width="0.8"/>
<rect x="201.88" y="253.16" width="7.875" height="9.78" fill="#5d1b6d" stroke="#e2c2dc" stroke-width="0.8"/>
<rect x="209.75" y="253.16" width="7.875" height="9.78" fill="#5d1b6d" stroke="#e2c2dc" stroke-width="0.8"/>
<rect x="217.62" y="253.16" width="7.875" height="9.78" fill="#cbcbce" stroke="#e2c2dc" stroke-width="0.8"/>
<rect x="225.50" y="253.16" width="7.875" height="9.78" fill="#5d1b6d" stroke="#e2c2dc" stroke-width="0.8"/>
<rect x="233.38" y="253.16" width="7.875" height="9.78" fill="#5d1b6d" stroke="#e2c2dc" stroke-width="0.8"/>
<rect x="241.25" y="253.16" width="7.875" height="9.78" fill="#5d1b6d" stroke="#e2c2dc" stroke-width="0.8"/>
<rect x="249.12" y="253.16" width="7.875" height="9.78" fill="#5d1b6d" stroke="#e2c2dc" stroke-width="0.8"/>
<text x="101.6" y="270.33" font-size="7.3" text-anchor="end">Jolly et al. Female 29</text>
<rect x="105.20" y="262.94" width="7.60" height="9.78" fill="#111111" stroke="#e2c2dc" stroke-width="0.7"/>
<rect x="112.80" y="262.94" width="7.60" height="9.78" fill="#1d4a95" stroke="#e2c2dc" stroke-width="0.7"/>
<rect x="120.40" y="262.94" width="7.60" height="9.78" fill="#cbcbce" stroke="#e2c2dc" stroke-width="0.7"/>
<rect x="131.00" y="262.94" width="7.875" height="9.78" fill="#f9d1e9" stroke="#e2c2dc" stroke-width="0.8"/>
<rect x="138.88" y="262.94" width="7.875" height="9.78" fill="#f9d1e9" stroke="#e2c2dc" stroke-width="0.8"/>
<rect x="146.75" y="262.94" width="7.875" height="9.78" fill="#f9d1e9" stroke="#e2c2dc" stroke-width="0.8"/>
<rect x="154.62" y="262.94" width="7.875" height="9.78" fill="#f9d1e9" stroke="#e2c2dc" stroke-width="0.8"/>
<rect x="162.50" y="262.94" width="7.875" height="9.78" fill="#5d1b6d" stroke="#e2c2dc" stroke-width="0.8"/>
<rect x="170.38" y="262.94" width="7.875" height="9.78" fill="#f9d1e9" stroke="#e2c2dc" stroke-width="0.8"/>
<rect x="178.25" y="262.94" width="7.875" height="9.78" fill="#f9d1e9" stroke="#e2c2dc" stroke-width="0.8"/>
<rect x="186.12" y="262.94" width="7.875" height="9.78" fill="#f9d1e9" stroke="#e2c2dc" stroke-width="0.8"/>
<rect x="194.00" y="262.94" width="7.875" height="9.78" fill="#5d1b6d" stroke="#e2c2dc" stroke-width="0.8"/>
<rect x="201.88" y="262.94" width="7.875" height="9.78" fill="#5d1b6d" stroke="#e2c2dc" stroke-width="0.8"/>
<rect x="209.75" y="262.94" width="7.875" height="9.78" fill="#5d1b6d" stroke="#e2c2dc" stroke-width="0.8"/>
<rect x="217.62" y="262.94" width="7.875" height="9.78" fill="#5d1b6d" stroke="#e2c2dc" stroke-width="0.8"/>
<rect x="225.50" y="262.94" width="7.875" height="9.78" fill="#5d1b6d" stroke="#e2c2dc" stroke-width="0.8"/>
<rect x="233.38" y="262.94" width="7.875" height="9.78" fill="#f9d1e9" stroke="#e2c2dc" stroke-width="0.8"/>
<rect x="241.25" y="262.94" width="7.875" height="9.78" fill="#5d1b6d" stroke="#e2c2dc" stroke-width="0.8"/>
<rect x="249.12" y="262.94" width="7.875" height="9.78" fill="#5d1b6d" stroke="#e2c2dc" stroke-width="0.8"/>
<text x="101.6" y="280.11" font-size="7.3" text-anchor="end">Li et al. Female 2</text>
<rect x="105.20" y="272.72" width="7.60" height="9.78" fill="#b6d5ee" stroke="#e2c2dc" stroke-width="0.7"/>
<rect x="112.80" y="272.72" width="7.60" height="9.78" fill="#f9c20f" stroke="#e2c2dc" stroke-width="0.7"/>
<rect x="120.40" y="272.72" width="7.60" height="9.78" fill="#cbcbce" stroke="#e2c2dc" stroke-width="0.7"/>
<rect x="131.00" y="272.72" width="7.875" height="9.78" fill="#f9d1e9" stroke="#e2c2dc" stroke-width="0.8"/>
<rect x="138.88" y="272.72" width="7.875" height="9.78" fill="#f9d1e9" stroke="#e2c2dc" stroke-width="0.8"/>
<rect x="146.75" y="272.72" width="7.875" height="9.78" fill="#f9d1e9" stroke="#e2c2dc" stroke-width="0.8"/>
<rect x="154.62" y="272.72" width="7.875" height="9.78" fill="#f9d1e9" stroke="#e2c2dc" stroke-width="0.8"/>
<rect x="162.50" y="272.72" width="7.875" height="9.78" fill="#5d1b6d" stroke="#e2c2dc" stroke-width="0.8"/>
<rect x="170.38" y="272.72" width="7.875" height="9.78" fill="#5d1b6d" stroke="#e2c2dc" stroke-width="0.8"/>
<rect x="178.25" y="272.72" width="7.875" height="9.78" fill="#f9d1e9" stroke="#e2c2dc" stroke-width="0.8"/>
<rect x="186.12" y="272.72" width="7.875" height="9.78" fill="#f9d1e9" stroke="#e2c2dc" stroke-width="0.8"/>
<rect x="194.00" y="272.72" width="7.875" height="9.78" fill="#5d1b6d" stroke="#e2c2dc" stroke-width="0.8"/>
<rect x="201.88" y="272.72" width="7.875" height="9.78" fill="#f9d1e9" stroke="#e2c2dc" stroke-width="0.8"/>
<rect x="209.75" y="272.72" width="7.875" height="9.78" fill="#f9d1e9" stroke="#e2c2dc" stroke-width="0.8"/>
<rect x="217.62" y="272.72" width="7.875" height="9.78" fill="#f9d1e9" stroke="#e2c2dc" stroke-width="0.8"/>
<rect x="225.50" y="272.72" width="7.875" height="9.78" fill="#5d1b6d" stroke="#e2c2dc" stroke-width="0.8"/>
<rect x="233.38" y="272.72" width="7.875" height="9.78" fill="#5d1b6d" stroke="#e2c2dc" stroke-width="0.8"/>
<rect x="241.25" y="272.72" width="7.875" height="9.78" fill="#5d1b6d" stroke="#e2c2dc" stroke-width="0.8"/>
<rect x="249.12" y="272.72" width="7.875" height="9.78" fill="#5d1b6d" stroke="#e2c2dc" stroke-width="0.8"/>
<text x="101.6" y="289.89" font-size="7.3" text-anchor="end">Jolly et al. Female 17</text>
<rect x="105.20" y="282.50" width="7.60" height="9.78" fill="#111111" stroke="#e2c2dc" stroke-width="0.7"/>
<rect x="112.80" y="282.50" width="7.60" height="9.78" fill="#be6b1c" stroke="#e2c2dc" stroke-width="0.7"/>
<rect x="120.40" y="282.50" width="7.60" height="9.78" fill="#cbcbce" stroke="#e2c2dc" stroke-width="0.7"/>
<rect x="131.00" y="282.50" width="7.875" height="9.78" fill="#f9d1e9" stroke="#e2c2dc" stroke-width="0.8"/>
<rect x="138.88" y="282.50" width="7.875" height="9.78" fill="#cbcbce" stroke="#e2c2dc" stroke-width="0.8"/>
<rect x="146.75" y="282.50" width="7.875" height="9.78" fill="#f9d1e9" stroke="#e2c2dc" stroke-width="0.8"/>
<rect x="154.62" y="282.50" width="7.875" height="9.78" fill="#5d1b6d" stroke="#e2c2dc" stroke-width="0.8"/>
<rect x="162.50" y="282.50" width="7.875" height="9.78" fill="#f9d1e9" stroke="#e2c2dc" stroke-width="0.8"/>
<rect x="170.38" y="282.50" width="7.875" height="9.78" fill="#5d1b6d" stroke="#e2c2dc" stroke-width="0.8"/>
<rect x="178.25" y="282.50" width="7.875" height="9.78" fill="#5d1b6d" stroke="#e2c2dc" stroke-width="0.8"/>
<rect x="186.12" y="282.50" width="7.875" height="9.78" fill="#f9d1e9" stroke="#e2c2dc" stroke-width="0.8"/>
<rect x="194.00" y="282.50" width="7.875" height="9.78" fill="#cbcbce" stroke="#e2c2dc" stroke-width="0.8"/>
<rect x="201.88" y="282.50" width="7.875" height="9.78" fill="#5d1b6d" stroke="#e2c2dc" stroke-width="0.8"/>
<rect x="209.75" y="282.50" width="7.875" height="9.78" fill="#5d1b6d" stroke="#e2c2dc" stroke-width="0.8"/>
<rect x="217.62" y="282.50" width="7.875" height="9.78" fill="#cbcbce" stroke="#e2c2dc" stroke-width="0.8"/>
<rect x="225.50" y="282.50" width="7.875" height="9.78" fill="#f9d1e9" stroke="#e2c2dc" stroke-width="0.8"/>
<rect x="233.38" y="282.50" width="7.875" height="9.78" fill="#f9d1e9" stroke="#e2c2dc" stroke-width="0.8"/>
<rect x="241.25" y="282.50" width="7.875" height="9.78" fill="#5d1b6d" stroke="#e2c2dc" stroke-width="0.8"/>
<rect x="249.12" y="282.50" width="7.875" height="9.78" fill="#5d1b6d" stroke="#e2c2dc" stroke-width="0.8"/>
<text x="101.6" y="299.67" font-size="7.3" text-anchor="end">Jolly et al. Female 33</text>
<rect x="105.20" y="292.28" width="7.60" height="9.78" fill="#b6d5ee" stroke="#e2c2dc" stroke-width="0.7"/>
<rect x="112.80" y="292.28" width="7.60" height="9.78" fill="#c70a2c" stroke="#e2c2dc" stroke-width="0.7"/>
<rect x="120.40" y="292.28" width="7.60" height="9.78" fill="#cbcbce" stroke="#e2c2dc" stroke-width="0.7"/>
<rect x="131.00" y="292.28" width="7.875" height="9.78" fill="#f9d1e9" stroke="#e2c2dc" stroke-width="0.8"/>
<rect x="138.88" y="292.28" width="7.875" height="9.78" fill="#f9d1e9" stroke="#e2c2dc" stroke-width="0.8"/>
<rect x="146.75" y="292.28" width="7.875" height="9.78" fill="#f9d1e9" stroke="#e2c2dc" stroke-width="0.8"/>
<rect x="154.62" y="292.28" width="7.875" height="9.78" fill="#f9d1e9" stroke="#e2c2dc" stroke-width="0.8"/>
<rect x="162.50" y="292.28" width="7.875" height="9.78" fill="#5d1b6d" stroke="#e2c2dc" stroke-width="0.8"/>
<rect x="170.38" y="292.28" width="7.875" height="9.78" fill="#f9d1e9" stroke="#e2c2dc" stroke-width="0.8"/>
<rect x="178.25" y="292.28" width="7.875" height="9.78" fill="#5d1b6d" stroke="#e2c2dc" stroke-width="0.8"/>
<rect x="186.12" y="292.28" width="7.875" height="9.78" fill="#f9d1e9" stroke="#e2c2dc" stroke-width="0.8"/>
<rect x="194.00" y="292.28" width="7.875" height="9.78" fill="#f9d1e9" stroke="#e2c2dc" stroke-width="0.8"/>
<rect x="201.88" y="292.28" width="7.875" height="9.78" fill="#5d1b6d" stroke="#e2c2dc" stroke-width="0.8"/>
<rect x="209.75" y="292.28" width="7.875" height="9.78" fill="#f9d1e9" stroke="#e2c2dc" stroke-width="0.8"/>
<rect x="217.62" y="292.28" width="7.875" height="9.78" fill="#f9d1e9" stroke="#e2c2dc" stroke-width="0.8"/>
<rect x="225.50" y="292.28" width="7.875" height="9.78" fill="#5d1b6d" stroke="#e2c2dc" stroke-width="0.8"/>
<rect x="233.38" y="292.28" width="7.875" height="9.78" fill="#5d1b6d" stroke="#e2c2dc" stroke-width="0.8"/>
<rect x="241.25" y="292.28" width="7.875" height="9.78" fill="#5d1b6d" stroke="#e2c2dc" stroke-width="0.8"/>
<rect x="249.12" y="292.28" width="7.875" height="9.78" fill="#5d1b6d" stroke="#e2c2dc" stroke-width="0.8"/>
<text x="101.6" y="309.45" font-size="7.3" text-anchor="end">Au et al. Female 1</text>
<rect x="105.20" y="302.06" width="7.60" height="9.78" fill="#111111" stroke="#e2c2dc" stroke-width="0.7"/>
<rect x="112.80" y="302.06" width="7.60" height="9.78" fill="#1c6b4c" stroke="#e2c2dc" stroke-width="0.7"/>
<rect x="120.40" y="302.06" width="7.60" height="9.78" fill="#cbcbce" stroke="#e2c2dc" stroke-width="0.7"/>
<rect x="131.00" y="302.06" width="7.875" height="9.78" fill="#f9d1e9" stroke="#e2c2dc" stroke-width="0.8"/>
<rect x="138.88" y="302.06" width="7.875" height="9.78" fill="#f9d1e9" stroke="#e2c2dc" stroke-width="0.8"/>
<rect x="146.75" y="302.06" width="7.875" height="9.78" fill="#5d1b6d" stroke="#e2c2dc" stroke-width="0.8"/>
<rect x="154.62" y="302.06" width="7.875" height="9.78" fill="#f9d1e9" stroke="#e2c2dc" stroke-width="0.8"/>
<rect x="162.50" y="302.06" width="7.875" height="9.78" fill="#f9d1e9" stroke="#e2c2dc" stroke-width="0.8"/>
<rect x="170.38" y="302.06" width="7.875" height="9.78" fill="#f9d1e9" stroke="#e2c2dc" stroke-width="0.8"/>
<rect x="178.25" y="302.06" width="7.875" height="9.78" fill="#5d1b6d" stroke="#e2c2dc" stroke-width="0.8"/>
<rect x="186.12" y="302.06" width="7.875" height="9.78" fill="#f9d1e9" stroke="#e2c2dc" stroke-width="0.8"/>
<rect x="194.00" y="302.06" width="7.875" height="9.78" fill="#f9d1e9" stroke="#e2c2dc" stroke-width="0.8"/>
<rect x="201.88" y="302.06" width="7.875" height="9.78" fill="#5d1b6d" stroke="#e2c2dc" stroke-width="0.8"/>
<rect x="209.75" y="302.06" width="7.875" height="9.78" fill="#5d1b6d" stroke="#e2c2dc" stroke-width="0.8"/>
<rect x="217.62" y="302.06" width="7.875" height="9.78" fill="#f9d1e9" stroke="#e2c2dc" stroke-width="0.8"/>
<rect x="225.50" y="302.06" width="7.875" height="9.78" fill="#f9d1e9" stroke="#e2c2dc" stroke-width="0.8"/>
<rect x="233.38" y="302.06" width="7.875" height="9.78" fill="#f9d1e9" stroke="#e2c2dc" stroke-width="0.8"/>
<rect x="241.25" y="302.06" width="7.875" height="9.78" fill="#5d1b6d" stroke="#e2c2dc" stroke-width="0.8"/>
<rect x="249.12" y="302.06" width="7.875" height="9.78" fill="#5d1b6d" stroke="#e2c2dc" stroke-width="0.8"/>
<text x="101.6" y="319.23" font-size="7.3" text-anchor="end">Vianna et al. Female 1</text>
<rect x="105.20" y="311.84" width="7.60" height="9.78" fill="#111111" stroke="#e2c2dc" stroke-width="0.7"/>
<rect x="112.80" y="311.84" width="7.60" height="9.78" fill="#f9c20f" stroke="#e2c2dc" stroke-width="0.7"/>
<rect x="120.40" y="311.84" width="7.60" height="9.78" fill="#cbcbce" stroke="#e2c2dc" stroke-width="0.7"/>
<rect x="131.00" y="311.84" width="7.875" height="9.78" fill="#cbcbce" stroke="#e2c2dc" stroke-width="0.8"/>
<rect x="138.88" y="311.84" width="7.875" height="9.78" fill="#5d1b6d" stroke="#e2c2dc" stroke-width="0.8"/>
<rect x="146.75" y="311.84" width="7.875" height="9.78" fill="#cbcbce" stroke="#e2c2dc" stroke-width="0.8"/>
<rect x="154.62" y="311.84" width="7.875" height="9.78" fill="#cbcbce" stroke="#e2c2dc" stroke-width="0.8"/>
<rect x="162.50" y="311.84" width="7.875" height="9.78" fill="#f9d1e9" stroke="#e2c2dc" stroke-width="0.8"/>
<rect x="170.38" y="311.84" width="7.875" height="9.78" fill="#5d1b6d" stroke="#e2c2dc" stroke-width="0.8"/>
<rect x="178.25" y="311.84" width="7.875" height="9.78" fill="#5d1b6d" stroke="#e2c2dc" stroke-width="0.8"/>
<rect x="186.12" y="311.84" width="7.875" height="9.78" fill="#cbcbce" stroke="#e2c2dc" stroke-width="0.8"/>
<rect x="194.00" y="311.84" width="7.875" height="9.78" fill="#f9d1e9" stroke="#e2c2dc" stroke-width="0.8"/>
<rect x="201.88" y="311.84" width="7.875" height="9.78" fill="#cbcbce" stroke="#e2c2dc" stroke-width="0.8"/>
<rect x="209.75" y="311.84" width="7.875" height="9.78" fill="#f9d1e9" stroke="#e2c2dc" stroke-width="0.8"/>
<rect x="217.62" y="311.84" width="7.875" height="9.78" fill="#f9d1e9" stroke="#e2c2dc" stroke-width="0.8"/>
<rect x="225.50" y="311.84" width="7.875" height="9.78" fill="#5d1b6d" stroke="#e2c2dc" stroke-width="0.8"/>
<rect x="233.38" y="311.84" width="7.875" height="9.78" fill="#5d1b6d" stroke="#e2c2dc" stroke-width="0.8"/>
<rect x="241.25" y="311.84" width="7.875" height="9.78" fill="#5d1b6d" stroke="#e2c2dc" stroke-width="0.8"/>
<rect x="249.12" y="311.84" width="7.875" height="9.78" fill="#cbcbce" stroke="#e2c2dc" stroke-width="0.8"/>
<text x="101.6" y="329.01" font-size="7.3" text-anchor="end">Jolly et al. Female 4</text>
<rect x="105.20" y="321.62" width="7.60" height="9.78" fill="#111111" stroke="#e2c2dc" stroke-width="0.7"/>
<rect x="112.80" y="321.62" width="7.60" height="9.78" fill="#f9c20f" stroke="#e2c2dc" stroke-width="0.7"/>
<rect x="120.40" y="321.62" width="7.60" height="9.78" fill="#cbcbce" stroke="#e2c2dc" stroke-width="0.7"/>
<rect x="131.00" y="321.62" width="7.875" height="9.78" fill="#5d1b6d" stroke="#e2c2dc" stroke-width="0.8"/>
<rect x="138.88" y="321.62" width="7.875" height="9.78" fill="#5d1b6d" stroke="#e2c2dc" stroke-width="0.8"/>
<rect x="146.75" y="321.62" width="7.875" height="9.78" fill="#f9d1e9" stroke="#e2c2dc" stroke-width="0.8"/>
<rect x="154.62" y="321.62" width="7.875" height="9.78" fill="#f9d1e9" stroke="#e2c2dc" stroke-width="0.8"/>
<rect x="162.50" y="321.62" width="7.875" height="9.78" fill="#f9d1e9" stroke="#e2c2dc" stroke-width="0.8"/>
<rect x="170.38" y="321.62" width="7.875" height="9.78" fill="#f9d1e9" stroke="#e2c2dc" stroke-width="0.8"/>
<rect x="178.25" y="321.62" width="7.875" height="9.78" fill="#5d1b6d" stroke="#e2c2dc" stroke-width="0.8"/>
<rect x="186.12" y="321.62" width="7.875" height="9.78" fill="#f9d1e9" stroke="#e2c2dc" stroke-width="0.8"/>
<rect x="194.00" y="321.62" width="7.875" height="9.78" fill="#f9d1e9" stroke="#e2c2dc" stroke-width="0.8"/>
<rect x="201.88" y="321.62" width="7.875" height="9.78" fill="#f9d1e9" stroke="#e2c2dc" stroke-width="0.8"/>
<rect x="209.75" y="321.62" width="7.875" height="9.78" fill="#f9d1e9" stroke="#e2c2dc" stroke-width="0.8"/>
<rect x="217.62" y="321.62" width="7.875" height="9.78" fill="#5d1b6d" stroke="#e2c2dc" stroke-width="0.8"/>
<rect x="225.50" y="321.62" width="7.875" height="9.78" fill="#f9d1e9" stroke="#e2c2dc" stroke-width="0.8"/>
<rect x="233.38" y="321.62" width="7.875" height="9.78" fill="#f9d1e9" stroke="#e2c2dc" stroke-width="0.8"/>
<rect x="241.25" y="321.62" width="7.875" height="9.78" fill="#5d1b6d" stroke="#e2c2dc" stroke-width="0.8"/>
<rect x="249.12" y="321.62" width="7.875" height="9.78" fill="#5d1b6d" stroke="#e2c2dc" stroke-width="0.8"/>
<text x="101.6" y="338.79" font-size="7.3" text-anchor="end">Jolly et al. Female 8</text>
<rect x="105.20" y="331.40" width="7.60" height="9.78" fill="#111111" stroke="#e2c2dc" stroke-width="0.7"/>
<rect x="112.80" y="331.40" width="7.60" height="9.78" fill="#c70a2c" stroke="#e2c2dc" stroke-width="0.7"/>
<rect x="120.40" y="331.40" width="7.60" height="9.78" fill="#cbcbce" stroke="#e2c2dc" stroke-width="0.7"/>
<rect x="131.00" y="331.40" width="7.875" height="9.78" fill="#5d1b6d" stroke="#e2c2dc" stroke-width="0.8"/>
<rect x="138.88" y="331.40" width="7.875" height="9.78" fill="#f9d1e9" stroke="#e2c2dc" stroke-width="0.8"/>
<rect x="146.75" y="331.40" width="7.875" height="9.78" fill="#f9d1e9" stroke="#e2c2dc" stroke-width="0.8"/>
<rect x="154.62" y="331.40" width="7.875" height="9.78" fill="#cbcbce" stroke="#e2c2dc" stroke-width="0.8"/>
<rect x="162.50" y="331.40" width="7.875" height="9.78" fill="#5d1b6d" stroke="#e2c2dc" stroke-width="0.8"/>
<rect x="170.38" y="331.40" width="7.875" height="9.78" fill="#cbcbce" stroke="#e2c2dc" stroke-width="0.8"/>
<rect x="178.25" y="331.40" width="7.875" height="9.78" fill="#cbcbce" stroke="#e2c2dc" stroke-width="0.8"/>
<rect x="186.12" y="331.40" width="7.875" height="9.78" fill="#f9d1e9" stroke="#e2c2dc" stroke-width="0.8"/>
<rect x="194.00" y="331.40" width="7.875" height="9.78" fill="#5d1b6d" stroke="#e2c2dc" stroke-width="0.8"/>
<rect x="201.88" y="331.40" width="7.875" height="9.78" fill="#cbcbce" stroke="#e2c2dc" stroke-width="0.8"/>
<rect x="209.75" y="331.40" width="7.875" height="9.78" fill="#5d1b6d" stroke="#e2c2dc" stroke-width="0.8"/>
<rect x="217.62" y="331.40" width="7.875" height="9.78" fill="#f9d1e9" stroke="#e2c2dc" stroke-width="0.8"/>
<rect x="225.50" y="331.40" width="7.875" height="9.78" fill="#cbcbce" stroke="#e2c2dc" stroke-width="0.8"/>
<rect x="233.38" y="331.40" width="7.875" height="9.78" fill="#cbcbce" stroke="#e2c2dc" stroke-width="0.8"/>
<rect x="241.25" y="331.40" width="7.875" height="9.78" fill="#5d1b6d" stroke="#e2c2dc" stroke-width="0.8"/>
<rect x="249.12" y="331.40" width="7.875" height="9.78" fill="#5d1b6d" stroke="#e2c2dc" stroke-width="0.8"/>
<text x="101.6" y="348.57" font-size="7.3" text-anchor="end">Jolly et al. Female 10</text>
<rect x="105.20" y="341.18" width="7.60" height="9.78" fill="#111111" stroke="#e2c2dc" stroke-width="0.7"/>
<rect x="112.80" y="341.18" width="7.60" height="9.78" fill="#1d4a95" stroke="#e2c2dc" stroke-width="0.7"/>
<rect x="120.40" y="341.18" width="7.60" height="9.78" fill="#cbcbce" stroke="#e2c2dc" stroke-width="0.7"/>
<rect x="131.00" y="341.18" width="7.875" height="9.78" fill="#f9d1e9" stroke="#e2c2dc" stroke-width="0.8"/>
<rect x="138.88" y="341.18" width="7.875" height="9.78" fill="#cbcbce" stroke="#e2c2dc" stroke-width="0.8"/>
<rect x="146.75" y="341.18" width="7.875" height="9.78" fill="#5d1b6d" stroke="#e2c2dc" stroke-width="0.8"/>
<rect x="154.62" y="341.18" width="7.875" height="9.78" fill="#5d1b6d" stroke="#e2c2dc" stroke-width="0.8"/>
<rect x="162.50" y="341.18" width="7.875" height="9.78" fill="#f9d1e9" stroke="#e2c2dc" stroke-width="0.8"/>
<rect x="170.38" y="341.18" width="7.875" height="9.78" fill="#f9d1e9" stroke="#e2c2dc" stroke-width="0.8"/>
<rect x="178.25" y="341.18" width="7.875" height="9.78" fill="#5d1b6d" stroke="#e2c2dc" stroke-width="0.8"/>
<rect x="186.12" y="341.18" width="7.875" height="9.78" fill="#cbcbce" stroke="#e2c2dc" stroke-width="0.8"/>
<rect x="194.00" y="341.18" width="7.875" height="9.78" fill="#cbcbce" stroke="#e2c2dc" stroke-width="0.8"/>
<rect x="201.88" y="341.18" width="7.875" height="9.78" fill="#f9d1e9" stroke="#e2c2dc" stroke-width="0.8"/>
<rect x="209.75" y="341.18" width="7.875" height="9.78" fill="#5d1b6d" stroke="#e2c2dc" stroke-width="0.8"/>
<rect x="217.62" y="341.18" width="7.875" height="9.78" fill="#f9d1e9" stroke="#e2c2dc" stroke-width="0.8"/>
<rect x="225.50" y="341.18" width="7.875" height="9.78" fill="#f9d1e9" stroke="#e2c2dc" stroke-width="0.8"/>
<rect x="233.38" y="341.18" width="7.875" height="9.78" fill="#f9d1e9" stroke="#e2c2dc" stroke-width="0.8"/>
<rect x="241.25" y="341.18" width="7.875" height="9.78" fill="#5d1b6d" stroke="#e2c2dc" stroke-width="0.8"/>
<rect x="249.12" y="341.18" width="7.875" height="9.78" fill="#5d1b6d" stroke="#e2c2dc" stroke-width="0.8"/>
<text x="101.6" y="358.35" font-size="7.3" text-anchor="end">Jolly et al. Female 23</text>
<rect x="105.20" y="350.96" width="7.60" height="9.78" fill="#111111" stroke="#e2c2dc" stroke-width="0.7"/>
<rect x="112.80" y="350.96" width="7.60" height="9.78" fill="#c70a2c" stroke="#e2c2dc" stroke-width="0.7"/>
<rect x="120.40" y="350.96" width="7.60" height="9.78" fill="#cbcbce" stroke="#e2c2dc" stroke-width="0.7"/>
<rect x="131.00" y="350.96" width="7.875" height="9.78" fill="#5d1b6d" stroke="#e2c2dc" stroke-width="0.8"/>
<rect x="138.88" y="350.96" width="7.875" height="9.78" fill="#f9d1e9" stroke="#e2c2dc" stroke-width="0.8"/>
<rect x="146.75" y="350.96" width="7.875" height="9.78" fill="#5d1b6d" stroke="#e2c2dc" stroke-width="0.8"/>
<rect x="154.62" y="350.96" width="7.875" height="9.78" fill="#cbcbce" stroke="#e2c2dc" stroke-width="0.8"/>
<rect x="162.50" y="350.96" width="7.875" height="9.78" fill="#cbcbce" stroke="#e2c2dc" stroke-width="0.8"/>
<rect x="170.38" y="350.96" width="7.875" height="9.78" fill="#cbcbce" stroke="#e2c2dc" stroke-width="0.8"/>
<rect x="178.25" y="350.96" width="7.875" height="9.78" fill="#cbcbce" stroke="#e2c2dc" stroke-width="0.8"/>
<rect x="186.12" y="350.96" width="7.875" height="9.78" fill="#5d1b6d" stroke="#e2c2dc" stroke-width="0.8"/>
<rect x="194.00" y="350.96" width="7.875" height="9.78" fill="#5d1b6d" stroke="#e2c2dc" stroke-width="0.8"/>
<rect x="201.88" y="350.96" width="7.875" height="9.78" fill="#5d1b6d" stroke="#e2c2dc" stroke-width="0.8"/>
<rect x="209.75" y="350.96" width="7.875" height="9.78" fill="#cbcbce" stroke="#e2c2dc" stroke-width="0.8"/>
<rect x="217.62" y="350.96" width="7.875" height="9.78" fill="#5d1b6d" stroke="#e2c2dc" stroke-width="0.8"/>
<rect x="225.50" y="350.96" width="7.875" height="9.78" fill="#cbcbce" stroke="#e2c2dc" stroke-width="0.8"/>
<rect x="233.38" y="350.96" width="7.875" height="9.78" fill="#cbcbce" stroke="#e2c2dc" stroke-width="0.8"/>
<rect x="241.25" y="350.96" width="7.875" height="9.78" fill="#cbcbce" stroke="#e2c2dc" stroke-width="0.8"/>
<rect x="249.12" y="350.96" width="7.875" height="9.78" fill="#cbcbce" stroke="#e2c2dc" stroke-width="0.8"/>
<text x="101.6" y="368.13" font-size="7.3" text-anchor="end">Jolly et al. Female 25</text>
<rect x="105.20" y="360.74" width="7.60" height="9.78" fill="#111111" stroke="#e2c2dc" stroke-width="0.7"/>
<rect x="112.80" y="360.74" width="7.60" height="9.78" fill="#c70a2c" stroke="#e2c2dc" stroke-width="0.7"/>
<rect x="120.40" y="360.74" width="7.60" height="9.78" fill="#cbcbce" stroke="#e2c2dc" stroke-width="0.7"/>
<rect x="131.00" y="360.74" width="7.875" height="9.78" fill="#5d1b6d" stroke="#e2c2dc" stroke-width="0.8"/>
<rect x="138.88" y="360.74" width="7.875" height="9.78" fill="#f9d1e9" stroke="#e2c2dc" stroke-width="0.8"/>
<rect x="146.75" y="360.74" width="7.875" height="9.78" fill="#f9d1e9" stroke="#e2c2dc" stroke-width="0.8"/>
<rect x="154.62" y="360.74" width="7.875" height="9.78" fill="#f9d1e9" stroke="#e2c2dc" stroke-width="0.8"/>
<rect x="162.50" y="360.74" width="7.875" height="9.78" fill="#cbcbce" stroke="#e2c2dc" stroke-width="0.8"/>
<rect x="170.38" y="360.74" width="7.875" height="9.78" fill="#f9d1e9" stroke="#e2c2dc" stroke-width="0.8"/>
<rect x="178.25" y="360.74" width="7.875" height="9.78" fill="#f9d1e9" stroke="#e2c2dc" stroke-width="0.8"/>
<rect x="186.12" y="360.74" width="7.875" height="9.78" fill="#f9d1e9" stroke="#e2c2dc" stroke-width="0.8"/>
<rect x="194.00" y="360.74" width="7.875" height="9.78" fill="#5d1b6d" stroke="#e2c2dc" stroke-width="0.8"/>
<rect x="201.88" y="360.74" width="7.875" height="9.78" fill="#5d1b6d" stroke="#e2c2dc" stroke-width="0.8"/>
<rect x="209.75" y="360.74" width="7.875" height="9.78" fill="#f9d1e9" stroke="#e2c2dc" stroke-width="0.8"/>
<rect x="217.62" y="360.74" width="7.875" height="9.78" fill="#5d1b6d" stroke="#e2c2dc" stroke-width="0.8"/>
<rect x="225.50" y="360.74" width="7.875" height="9.78" fill="#f9d1e9" stroke="#e2c2dc" stroke-width="0.8"/>
<rect x="233.38" y="360.74" width="7.875" height="9.78" fill="#f9d1e9" stroke="#e2c2dc" stroke-width="0.8"/>
<rect x="241.25" y="360.74" width="7.875" height="9.78" fill="#5d1b6d" stroke="#e2c2dc" stroke-width="0.8"/>
<rect x="249.12" y="360.74" width="7.875" height="9.78" fill="#5d1b6d" stroke="#e2c2dc" stroke-width="0.8"/>
<text x="101.6" y="377.91" font-size="7.3" text-anchor="end">Jolly et al. Female 6</text>
<rect x="105.20" y="370.52" width="7.60" height="9.78" fill="#111111" stroke="#e2c2dc" stroke-width="0.7"/>
<rect x="112.80" y="370.52" width="7.60" height="9.78" fill="#be6b1c" stroke="#e2c2dc" stroke-width="0.7"/>
<rect x="120.40" y="370.52" width="7.60" height="9.78" fill="#cbcbce" stroke="#e2c2dc" stroke-width="0.7"/>
<rect x="131.00" y="370.52" width="7.875" height="9.78" fill="#f9d1e9" stroke="#e2c2dc" stroke-width="0.8"/>
<rect x="138.88" y="370.52" width="7.875" height="9.78" fill="#cbcbce" stroke="#e2c2dc" stroke-width="0.8"/>
<rect x="146.75" y="370.52" width="7.875" height="9.78" fill="#f9d1e9" stroke="#e2c2dc" stroke-width="0.8"/>
<rect x="154.62" y="370.52" width="7.875" height="9.78" fill="#f9d1e9" stroke="#e2c2dc" stroke-width="0.8"/>
<rect x="162.50" y="370.52" width="7.875" height="9.78" fill="#f9d1e9" stroke="#e2c2dc" stroke-width="0.8"/>
<rect x="170.38" y="370.52" width="7.875" height="9.78" fill="#5d1b6d" stroke="#e2c2dc" stroke-width="0.8"/>
<rect x="178.25" y="370.52" width="7.875" height="9.78" fill="#f9d1e9" stroke="#e2c2dc" stroke-width="0.8"/>
<rect x="186.12" y="370.52" width="7.875" height="9.78" fill="#f9d1e9" stroke="#e2c2dc" stroke-width="0.8"/>
<rect x="194.00" y="370.52" width="7.875" height="9.78" fill="#cbcbce" stroke="#e2c2dc" stroke-width="0.8"/>
<rect x="201.88" y="370.52" width="7.875" height="9.78" fill="#5d1b6d" stroke="#e2c2dc" stroke-width="0.8"/>
<rect x="209.75" y="370.52" width="7.875" height="9.78" fill="#f9d1e9" stroke="#e2c2dc" stroke-width="0.8"/>
<rect x="217.62" y="370.52" width="7.875" height="9.78" fill="#cbcbce" stroke="#e2c2dc" stroke-width="0.8"/>
<rect x="225.50" y="370.52" width="7.875" height="9.78" fill="#5d1b6d" stroke="#e2c2dc" stroke-width="0.8"/>
<rect x="233.38" y="370.52" width="7.875" height="9.78" fill="#5d1b6d" stroke="#e2c2dc" stroke-width="0.8"/>
<rect x="241.25" y="370.52" width="7.875" height="9.78" fill="#cbcbce" stroke="#e2c2dc" stroke-width="0.8"/>
<rect x="249.12" y="370.52" width="7.875" height="9.78" fill="#5d1b6d" stroke="#e2c2dc" stroke-width="0.8"/>
<text x="101.6" y="387.69" font-size="7.3" text-anchor="end">Jolly et al. Female 13</text>
<rect x="105.20" y="380.30" width="7.60" height="9.78" fill="#111111" stroke="#e2c2dc" stroke-width="0.7"/>
<rect x="112.80" y="380.30" width="7.60" height="9.78" fill="#f9c20f" stroke="#e2c2dc" stroke-width="0.7"/>
<rect x="120.40" y="380.30" width="7.60" height="9.78" fill="#cbcbce" stroke="#e2c2dc" stroke-width="0.7"/>
<rect x="131.00" y="380.30" width="7.875" height="9.78" fill="#f9d1e9" stroke="#e2c2dc" stroke-width="0.8"/>
<rect x="138.88" y="380.30" width="7.875" height="9.78" fill="#f9d1e9" stroke="#e2c2dc" stroke-width="0.8"/>
<rect x="146.75" y="380.30" width="7.875" height="9.78" fill="#f9d1e9" stroke="#e2c2dc" stroke-width="0.8"/>
<rect x="154.62" y="380.30" width="7.875" height="9.78" fill="#f9d1e9" stroke="#e2c2dc" stroke-width="0.8"/>
<rect x="162.50" y="380.30" width="7.875" height="9.78" fill="#f9d1e9" stroke="#e2c2dc" stroke-width="0.8"/>
<rect x="170.38" y="380.30" width="7.875" height="9.78" fill="#cbcbce" stroke="#e2c2dc" stroke-width="0.8"/>
<rect x="178.25" y="380.30" width="7.875" height="9.78" fill="#5d1b6d" stroke="#e2c2dc" stroke-width="0.8"/>
<rect x="186.12" y="380.30" width="7.875" height="9.78" fill="#f9d1e9" stroke="#e2c2dc" stroke-width="0.8"/>
<rect x="194.00" y="380.30" width="7.875" height="9.78" fill="#f9d1e9" stroke="#e2c2dc" stroke-width="0.8"/>
<rect x="201.88" y="380.30" width="7.875" height="9.78" fill="#f9d1e9" stroke="#e2c2dc" stroke-width="0.8"/>
<rect x="209.75" y="380.30" width="7.875" height="9.78" fill="#5d1b6d" stroke="#e2c2dc" stroke-width="0.8"/>
<rect x="217.62" y="380.30" width="7.875" height="9.78" fill="#f9d1e9" stroke="#e2c2dc" stroke-width="0.8"/>
<rect x="225.50" y="380.30" width="7.875" height="9.78" fill="#5d1b6d" stroke="#e2c2dc" stroke-width="0.8"/>
<rect x="233.38" y="380.30" width="7.875" height="9.78" fill="#f9d1e9" stroke="#e2c2dc" stroke-width="0.8"/>
<rect x="241.25" y="380.30" width="7.875" height="9.78" fill="#5d1b6d" stroke="#e2c2dc" stroke-width="0.8"/>
<rect x="249.12" y="380.30" width="7.875" height="9.78" fill="#5d1b6d" stroke="#e2c2dc" stroke-width="0.8"/>
<text x="101.6" y="397.47" font-size="7.3" text-anchor="end">Jolly et al. Female 21</text>
<rect x="105.20" y="390.08" width="7.60" height="9.78" fill="#111111" stroke="#e2c2dc" stroke-width="0.7"/>
<rect x="112.80" y="390.08" width="7.60" height="9.78" fill="#c70a2c" stroke="#e2c2dc" stroke-width="0.7"/>
<rect x="120.40" y="390.08" width="7.60" height="9.78" fill="#cbcbce" stroke="#e2c2dc" stroke-width="0.7"/>
<rect x="131.00" y="390.08" width="7.875" height="9.78" fill="#f9d1e9" stroke="#e2c2dc" stroke-width="0.8"/>
<rect x="138.88" y="390.08" width="7.875" height="9.78" fill="#f9d1e9" stroke="#e2c2dc" stroke-width="0.8"/>
<rect x="146.75" y="390.08" width="7.875" height="9.78" fill="#f9d1e9" stroke="#e2c2dc" stroke-width="0.8"/>
<rect x="154.62" y="390.08" width="7.875" height="9.78" fill="#f9d1e9" stroke="#e2c2dc" stroke-width="0.8"/>
<rect x="162.50" y="390.08" width="7.875" height="9.78" fill="#cbcbce" stroke="#e2c2dc" stroke-width="0.8"/>
<rect x="170.38" y="390.08" width="7.875" height="9.78" fill="#f9d1e9" stroke="#e2c2dc" stroke-width="0.8"/>
<rect x="178.25" y="390.08" width="7.875" height="9.78" fill="#f9d1e9" stroke="#e2c2dc" stroke-width="0.8"/>
<rect x="186.12" y="390.08" width="7.875" height="9.78" fill="#f9d1e9" stroke="#e2c2dc" stroke-width="0.8"/>
<rect x="194.00" y="390.08" width="7.875" height="9.78" fill="#f9d1e9" stroke="#e2c2dc" stroke-width="0.8"/>
<rect x="201.88" y="390.08" width="7.875" height="9.78" fill="#f9d1e9" stroke="#e2c2dc" stroke-width="0.8"/>
<rect x="209.75" y="390.08" width="7.875" height="9.78" fill="#5d1b6d" stroke="#e2c2dc" stroke-width="0.8"/>
<rect x="217.62" y="390.08" width="7.875" height="9.78" fill="#5d1b6d" stroke="#e2c2dc" stroke-width="0.8"/>
<rect x="225.50" y="390.08" width="7.875" height="9.78" fill="#f9d1e9" stroke="#e2c2dc" stroke-width="0.8"/>
<rect x="233.38" y="390.08" width="7.875" height="9.78" fill="#5d1b6d" stroke="#e2c2dc" stroke-width="0.8"/>
<rect x="241.25" y="390.08" width="7.875" height="9.78" fill="#5d1b6d" stroke="#e2c2dc" stroke-width="0.8"/>
<rect x="249.12" y="390.08" width="7.875" height="9.78" fill="#5d1b6d" stroke="#e2c2dc" stroke-width="0.8"/>
<text x="101.6" y="407.25" font-size="7.3" text-anchor="end">Tsurusaki et al. Female 1</text>
<rect x="105.20" y="399.86" width="7.60" height="9.78" fill="#111111" stroke="#e2c2dc" stroke-width="0.7"/>
<rect x="112.80" y="399.86" width="7.60" height="9.78" fill="#f9c20f" stroke="#e2c2dc" stroke-width="0.7"/>
<rect x="120.40" y="399.86" width="7.60" height="9.78" fill="#cbcbce" stroke="#e2c2dc" stroke-width="0.7"/>
<rect x="131.00" y="399.86" width="7.875" height="9.78" fill="#f9d1e9" stroke="#e2c2dc" stroke-width="0.8"/>
<rect x="138.88" y="399.86" width="7.875" height="9.78" fill="#f9d1e9" stroke="#e2c2dc" stroke-width="0.8"/>
<rect x="146.75" y="399.86" width="7.875" height="9.78" fill="#f9d1e9" stroke="#e2c2dc" stroke-width="0.8"/>
<rect x="154.62" y="399.86" width="7.875" height="9.78" fill="#f9d1e9" stroke="#e2c2dc" stroke-width="0.8"/>
<rect x="162.50" y="399.86" width="7.875" height="9.78" fill="#f9d1e9" stroke="#e2c2dc" stroke-width="0.8"/>
<rect x="170.38" y="399.86" width="7.875" height="9.78" fill="#f9d1e9" stroke="#e2c2dc" stroke-width="0.8"/>
<rect x="178.25" y="399.86" width="7.875" height="9.78" fill="#5d1b6d" stroke="#e2c2dc" stroke-width="0.8"/>
<rect x="186.12" y="399.86" width="7.875" height="9.78" fill="#f9d1e9" stroke="#e2c2dc" stroke-width="0.8"/>
<rect x="194.00" y="399.86" width="7.875" height="9.78" fill="#f9d1e9" stroke="#e2c2dc" stroke-width="0.8"/>
<rect x="201.88" y="399.86" width="7.875" height="9.78" fill="#f9d1e9" stroke="#e2c2dc" stroke-width="0.8"/>
<rect x="209.75" y="399.86" width="7.875" height="9.78" fill="#f9d1e9" stroke="#e2c2dc" stroke-width="0.8"/>
<rect x="217.62" y="399.86" width="7.875" height="9.78" fill="#5d1b6d" stroke="#e2c2dc" stroke-width="0.8"/>
<rect x="225.50" y="399.86" width="7.875" height="9.78" fill="#f9d1e9" stroke="#e2c2dc" stroke-width="0.8"/>
<rect x="233.38" y="399.86" width="7.875" height="9.78" fill="#f9d1e9" stroke="#e2c2dc" stroke-width="0.8"/>
<rect x="241.25" y="399.86" width="7.875" height="9.78" fill="#5d1b6d" stroke="#e2c2dc" stroke-width="0.8"/>
<rect x="249.12" y="399.86" width="7.875" height="9.78" fill="#5d1b6d" stroke="#e2c2dc" stroke-width="0.8"/>
<text x="101.6" y="417.03" font-size="7.3" text-anchor="end">Tsurusaki et al. Female 2</text>
<rect x="105.20" y="409.64" width="7.60" height="9.78" fill="#111111" stroke="#e2c2dc" stroke-width="0.7"/>
<rect x="112.80" y="409.64" width="7.60" height="9.78" fill="#9990cf" stroke="#e2c2dc" stroke-width="0.7"/>
<rect x="120.40" y="409.64" width="7.60" height="9.78" fill="#cbcbce" stroke="#e2c2dc" stroke-width="0.7"/>
<rect x="131.00" y="409.64" width="7.875" height="9.78" fill="#f9d1e9" stroke="#e2c2dc" stroke-width="0.8"/>
<rect x="138.88" y="409.64" width="7.875" height="9.78" fill="#f9d1e9" stroke="#e2c2dc" stroke-width="0.8"/>
<rect x="146.75" y="409.64" width="7.875" height="9.78" fill="#f9d1e9" stroke="#e2c2dc" stroke-width="0.8"/>
<rect x="154.62" y="409.64" width="7.875" height="9.78" fill="#f9d1e9" stroke="#e2c2dc" stroke-width="0.8"/>
<rect x="162.50" y="409.64" width="7.875" height="9.78" fill="#f9d1e9" stroke="#e2c2dc" stroke-width="0.8"/>
<rect x="170.38" y="409.64" width="7.875" height="9.78" fill="#f9d1e9" stroke="#e2c2dc" stroke-width="0.8"/>
<rect x="178.25" y="409.64" width="7.875" height="9.78" fill="#5d1b6d" stroke="#e2c2dc" stroke-width="0.8"/>
<rect x="186.12" y="409.64" width="7.875" height="9.78" fill="#f9d1e9" stroke="#e2c2dc" stroke-width="0.8"/>
<rect x="194.00" y="409.64" width="7.875" height="9.78" fill="#f9d1e9" stroke="#e2c2dc" stroke-width="0.8"/>
<rect x="201.88" y="409.64" width="7.875" height="9.78" fill="#f9d1e9" stroke="#e2c2dc" stroke-width="0.8"/>
<rect x="209.75" y="409.64" width="7.875" height="9.78" fill="#f9d1e9" stroke="#e2c2dc" stroke-width="0.8"/>
<rect x="217.62" y="409.64" width="7.875" height="9.78" fill="#f9d1e9" stroke="#e2c2dc" stroke-width="0.8"/>
<rect x="225.50" y="409.64" width="7.875" height="9.78" fill="#5d1b6d" stroke="#e2c2dc" stroke-width="0.8"/>
<rect x="233.38" y="409.64" width="7.875" height="9.78" fill="#5d1b6d" stroke="#e2c2dc" stroke-width="0.8"/>
<rect x="241.25" y="409.64" width="7.875" height="9.78" fill="#5d1b6d" stroke="#e2c2dc" stroke-width="0.8"/>
<rect x="249.12" y="409.64" width="7.875" height="9.78" fill="#f9d1e9" stroke="#e2c2dc" stroke-width="0.8"/>
<text x="101.6" y="426.81" font-size="7.3" text-anchor="end">Jolly et al. Female 31</text>
<rect x="105.20" y="419.42" width="7.60" height="9.78" fill="#b6d5ee" stroke="#e2c2dc" stroke-width="0.7"/>
<rect x="112.80" y="419.42" width="7.60" height="9.78" fill="#c70a2c" stroke="#e2c2dc" stroke-width="0.7"/>
<rect x="120.40" y="419.42" width="7.60" height="9.78" fill="#cbcbce" stroke="#e2c2dc" stroke-width="0.7"/>
<rect x="131.00" y="419.42" width="7.875" height="9.78" fill="#cbcbce" stroke="#e2c2dc" stroke-width="0.8"/>
<rect x="138.88" y="419.42" width="7.875" height="9.78" fill="#5d1b6d" stroke="#e2c2dc" stroke-width="0.8"/>
<rect x="146.75" y="419.42" width="7.875" height="9.78" fill="#5d1b6d" stroke="#e2c2dc" stroke-width="0.8"/>
<rect x="154.62" y="419.42" width="7.875" height="9.78" fill="#cbcbce" stroke="#e2c2dc" stroke-width="0.8"/>
<rect x="162.50" y="419.42" width="7.875" height="9.78" fill="#cbcbce" stroke="#e2c2dc" stroke-width="0.8"/>
<rect x="170.38" y="419.42" width="7.875" height="9.78" fill="#cbcbce" stroke="#e2c2dc" stroke-width="0.8"/>
<rect x="178.25" y="419.42" width="7.875" height="9.78" fill="#cbcbce" stroke="#e2c2dc" stroke-width="0.8"/>
<rect x="186.12" y="419.42" width="7.875" height="9.78" fill="#5d1b6d" stroke="#e2c2dc" stroke-width="0.8"/>
<rect x="194.00" y="419.42" width="7.875" height="9.78" fill="#f9d1e9" stroke="#e2c2dc" stroke-width="0.8"/>
<rect x="201.88" y="419.42" width="7.875" height="9.78" fill="#cbcbce" stroke="#e2c2dc" stroke-width="0.8"/>
<rect x="209.75" y="419.42" width="7.875" height="9.78" fill="#cbcbce" stroke="#e2c2dc" stroke-width="0.8"/>
<rect x="217.62" y="419.42" width="7.875" height="9.78" fill="#5d1b6d" stroke="#e2c2dc" stroke-width="0.8"/>
<rect x="225.50" y="419.42" width="7.875" height="9.78" fill="#cbcbce" stroke="#e2c2dc" stroke-width="0.8"/>
<rect x="233.38" y="419.42" width="7.875" height="9.78" fill="#cbcbce" stroke="#e2c2dc" stroke-width="0.8"/>
<rect x="241.25" y="419.42" width="7.875" height="9.78" fill="#cbcbce" stroke="#e2c2dc" stroke-width="0.8"/>
<rect x="249.12" y="419.42" width="7.875" height="9.78" fill="#cbcbce" stroke="#e2c2dc" stroke-width="0.8"/>
<text x="101.6" y="436.59" font-size="7.3" text-anchor="end">Jolly et al. Female 24</text>
<rect x="105.20" y="429.20" width="7.60" height="9.78" fill="#111111" stroke="#e2c2dc" stroke-width="0.7"/>
<rect x="112.80" y="429.20" width="7.60" height="9.78" fill="#c70a2c" stroke="#e2c2dc" stroke-width="0.7"/>
<rect x="120.40" y="429.20" width="7.60" height="9.78" fill="#cbcbce" stroke="#e2c2dc" stroke-width="0.7"/>
<rect x="131.00" y="429.20" width="7.875" height="9.78" fill="#f9d1e9" stroke="#e2c2dc" stroke-width="0.8"/>
<rect x="138.88" y="429.20" width="7.875" height="9.78" fill="#f9d1e9" stroke="#e2c2dc" stroke-width="0.8"/>
<rect x="146.75" y="429.20" width="7.875" height="9.78" fill="#f9d1e9" stroke="#e2c2dc" stroke-width="0.8"/>
<rect x="154.62" y="429.20" width="7.875" height="9.78" fill="#f9d1e9" stroke="#e2c2dc" stroke-width="0.8"/>
<rect x="162.50" y="429.20" width="7.875" height="9.78" fill="#cbcbce" stroke="#e2c2dc" stroke-width="0.8"/>
<rect x="170.38" y="429.20" width="7.875" height="9.78" fill="#f9d1e9" stroke="#e2c2dc" stroke-width="0.8"/>
<rect x="178.25" y="429.20" width="7.875" height="9.78" fill="#f9d1e9" stroke="#e2c2dc" stroke-width="0.8"/>
<rect x="186.12" y="429.20" width="7.875" height="9.78" fill="#5d1b6d" stroke="#e2c2dc" stroke-width="0.8"/>
<rect x="194.00" y="429.20" width="7.875" height="9.78" fill="#cbcbce" stroke="#e2c2dc" stroke-width="0.8"/>
<rect x="201.88" y="429.20" width="7.875" height="9.78" fill="#f9d1e9" stroke="#e2c2dc" stroke-width="0.8"/>
<rect x="209.75" y="429.20" width="7.875" height="9.78" fill="#cbcbce" stroke="#e2c2dc" stroke-width="0.8"/>
<rect x="217.62" y="429.20" width="7.875" height="9.78" fill="#cbcbce" stroke="#e2c2dc" stroke-width="0.8"/>
<rect x="225.50" y="429.20" width="7.875" height="9.78" fill="#f9d1e9" stroke="#e2c2dc" stroke-width="0.8"/>
<rect x="233.38" y="429.20" width="7.875" height="9.78" fill="#f9d1e9" stroke="#e2c2dc" stroke-width="0.8"/>
<rect x="241.25" y="429.20" width="7.875" height="9.78" fill="#5d1b6d" stroke="#e2c2dc" stroke-width="0.8"/>
<rect x="249.12" y="429.20" width="7.875" height="9.78" fill="#5d1b6d" stroke="#e2c2dc" stroke-width="0.8"/>
<text x="101.6" y="446.37" font-size="7.3" text-anchor="end">Lenberg et al. Fetal (12W)</text>
<rect x="105.20" y="438.98" width="7.60" height="9.78" fill="#111111" stroke="#e2c2dc" stroke-width="0.7"/>
<rect x="112.80" y="438.98" width="7.60" height="9.78" fill="#c70a2c" stroke="#e2c2dc" stroke-width="0.7"/>
<rect x="120.40" y="438.98" width="7.60" height="9.78" fill="#cbcbce" stroke="#e2c2dc" stroke-width="0.7"/>
<rect x="131.00" y="438.98" width="7.875" height="9.78" fill="#cbcbce" stroke="#e2c2dc" stroke-width="0.8"/>
<rect x="138.88" y="438.98" width="7.875" height="9.78" fill="#f9d1e9" stroke="#e2c2dc" stroke-width="0.8"/>
<rect x="146.75" y="438.98" width="7.875" height="9.78" fill="#f9d1e9" stroke="#e2c2dc" stroke-width="0.8"/>
<rect x="154.62" y="438.98" width="7.875" height="9.78" fill="#f9d1e9" stroke="#e2c2dc" stroke-width="0.8"/>
<rect x="162.50" y="438.98" width="7.875" height="9.78" fill="#f9d1e9" stroke="#e2c2dc" stroke-width="0.8"/>
<rect x="170.38" y="438.98" width="7.875" height="9.78" fill="#cbcbce" stroke="#e2c2dc" stroke-width="0.8"/>
<rect x="178.25" y="438.98" width="7.875" height="9.78" fill="#f9d1e9" stroke="#e2c2dc" stroke-width="0.8"/>
<rect x="186.12" y="438.98" width="7.875" height="9.78" fill="#f9d1e9" stroke="#e2c2dc" stroke-width="0.8"/>
<rect x="194.00" y="438.98" width="7.875" height="9.78" fill="#5d1b6d" stroke="#e2c2dc" stroke-width="0.8"/>
<rect x="201.88" y="438.98" width="7.875" height="9.78" fill="#cbcbce" stroke="#e2c2dc" stroke-width="0.8"/>
<rect x="209.75" y="438.98" width="7.875" height="9.78" fill="#cbcbce" stroke="#e2c2dc" stroke-width="0.8"/>
<rect x="217.62" y="438.98" width="7.875" height="9.78" fill="#5d1b6d" stroke="#e2c2dc" stroke-width="0.8"/>
<rect x="225.50" y="438.98" width="7.875" height="9.78" fill="#cbcbce" stroke="#e2c2dc" stroke-width="0.8"/>
<rect x="233.38" y="438.98" width="7.875" height="9.78" fill="#f9d1e9" stroke="#e2c2dc" stroke-width="0.8"/>
<rect x="241.25" y="438.98" width="7.875" height="9.78" fill="#cbcbce" stroke="#e2c2dc" stroke-width="0.8"/>
<rect x="249.12" y="438.98" width="7.875" height="9.78" fill="#cbcbce" stroke="#e2c2dc" stroke-width="0.8"/>
<rect x="259.5" y="40.29" width="9.40" height="5.2" fill="#5d1b6d"/>
<rect x="259.5" y="50.07" width="8.50" height="5.2" fill="#5d1b6d"/>
<rect x="259.5" y="59.85" width="7.60" height="5.2" fill="#5d1b6d"/>
<rect x="259.5" y="69.63" width="7.60" height="5.2" fill="#5d1b6d"/>
<rect x="259.5" y="79.41" width="7.20" height="5.2" fill="#5d1b6d"/>
<rect x="266.90" y="89.19" width="1.90" height="5.2" fill="#f6dbe9"/>
<rect x="259.5" y="89.19" width="7.40" height="5.2" fill="#5d1b6d"/>
<rect x="266.10" y="98.97" width="2.70" height="5.2" fill="#f6dbe9"/>
<rect x="259.5" y="98.97" width="6.60" height="5.2" fill="#5d1b6d"/>
<rect x="266.10" y="108.75" width="1.90" height="5.2" fill="#f6dbe9"/>
<rect x="259.5" y="108.75" width="6.60" height="5.2" fill="#5d1b6d"/>
<rect x="265.80" y="118.53" width="1.70" height="5.2" fill="#f6dbe9"/>
<rect x="259.5" y="118.53" width="6.30" height="5.2" fill="#5d1b6d"/>
<rect x="265.20" y="128.31" width="2.80" height="5.2" fill="#f6dbe9"/>
<rect x="259.5" y="128.31" width="5.70" height="5.2" fill="#5d1b6d"/>
<rect x="265.20" y="138.09" width="2.80" height="5.2" fill="#f6dbe9"/>
<rect x="259.5" y="138.09" width="5.70" height="5.2" fill="#5d1b6d"/>
<rect x="265.20" y="147.87" width="2.80" height="5.2" fill="#f6dbe9"/>
<rect x="259.5" y="147.87" width="5.70" height="5.2" fill="#5d1b6d"/>
<rect x="265.20" y="157.65" width="2.80" height="5.2" fill="#f6dbe9"/>
<rect x="259.5" y="157.65" width="5.70" height="5.2" fill="#5d1b6d"/>
<rect x="265.20" y="167.43" width="2.80" height="5.2" fill="#f6dbe9"/>
<rect x="259.5" y="167.43" width="5.70" height="5.2" fill="#5d1b6d"/>
<rect x="265.20" y="177.21" width="2.80" height="5.2" fill="#f6dbe9"/>
<rect x="259.5" y="177.21" width="5.70" height="5.2" fill="#5d1b6d"/>
<rect x="265.20" y="186.99" width="4.50" height="5.2" fill="#f6dbe9"/>
<rect x="259.5" y="186.99" width="5.70" height="5.2" fill="#5d1b6d"/>
<rect x="265.20" y="196.77" width="4.50" height="5.2" fill="#f6dbe9"/>
<rect x="259.5" y="196.77" width="5.70" height="5.2" fill="#5d1b6d"/>
<rect x="265.20" y="206.55" width="4.50" height="5.2" fill="#f6dbe9"/>
<rect x="259.5" y="206.55" width="5.70" height="5.2" fill="#5d1b6d"/>
<rect x="264.50" y="216.33" width="5.20" height="5.2" fill="#f6dbe9"/>
<rect x="259.5" y="216.33" width="5.00" height="5.2" fill="#5d1b6d"/>
<rect x="264.50" y="226.11" width="5.20" height="5.2" fill="#f6dbe9"/>
<rect x="259.5" y="226.11" width="5.00" height="5.2" fill="#5d1b6d"/>
<rect x="264.50" y="235.89" width="4.70" height="5.2" fill="#f6dbe9"/>
<rect x="259.5" y="235.89" width="5.00" height="5.2" fill="#5d1b6d"/>
<rect x="264.50" y="245.67" width="4.70" height="5.2" fill="#f6dbe9"/>
<rect x="259.5" y="245.67" width="5.00" height="5.2" fill="#5d1b6d"/>
<rect x="264.50" y="255.45" width="4.70" height="5.2" fill="#f6dbe9"/>
<rect x="259.5" y="255.45" width="5.00" height="5.2" fill="#5d1b6d"/>
<rect x="264.50" y="265.23" width="4.70" height="5.2" fill="#f6dbe9"/>
<rect x="259.5" y="265.23" width="5.00" height="5.2" fill="#5d1b6d"/>
<rect x="264.10" y="275.01" width="5.10" height="5.2" fill="#f6dbe9"/>
<rect x="259.5" y="275.01" width="4.60" height="5.2" fill="#5d1b6d"/>
<rect x="264.10" y="284.79" width="5.60" height="5.2" fill="#f6dbe9"/>
<rect x="259.5" y="284.79" width="4.60" height="5.2" fill="#5d1b6d"/>
<rect x="264.10" y="294.57" width="5.60" height="5.2" fill="#f6dbe9"/>
<rect x="259.5" y="294.57" width="4.60" height="5.2" fill="#5d1b6d"/>
<rect x="263.50" y="304.35" width="6.20" height="5.2" fill="#f6dbe9"/>
<rect x="259.5" y="304.35" width="4.00" height="5.2" fill="#5d1b6d"/>
<rect x="259.5" y="314.13" width="4.00" height="5.2" fill="#5d1b6d"/>
<rect x="263.50" y="323.91" width="6.20" height="5.2" fill="#f6dbe9"/>
<rect x="259.5" y="323.91" width="4.00" height="5.2" fill="#5d1b6d"/>
<rect x="263.30" y="333.69" width="4.70" height="5.2" fill="#f6dbe9"/>
<rect x="259.5" y="333.69" width="3.80" height="5.2" fill="#5d1b6d"/>
<rect x="263.30" y="343.47" width="4.70" height="5.2" fill="#f6dbe9"/>
<rect x="259.5" y="343.47" width="3.80" height="5.2" fill="#5d1b6d"/>
<rect x="263.30" y="353.25" width="4.70" height="5.2" fill="#f6dbe9"/>
<rect x="259.5" y="353.25" width="3.80" height="5.2" fill="#5d1b6d"/>
<rect x="263.00" y="363.03" width="5.00" height="5.2" fill="#f6dbe9"/>
<rect x="259.5" y="363.03" width="3.50" height="5.2" fill="#5d1b6d"/>
<rect x="263.00" y="372.81" width="5.00" height="5.2" fill="#f6dbe9"/>
<rect x="259.5" y="372.81" width="3.50" height="5.2" fill="#5d1b6d"/>
<rect x="262.60" y="382.59" width="7.20" height="5.2" fill="#f6dbe9"/>
<rect x="259.5" y="382.59" width="3.10" height="5.2" fill="#5d1b6d"/>
<rect x="262.60" y="392.37" width="7.20" height="5.2" fill="#f6dbe9"/>
<rect x="259.5" y="392.37" width="3.10" height="5.2" fill="#5d1b6d"/>
<rect x="262.00" y="402.15" width="7.80" height="5.2" fill="#f6dbe9"/>
<rect x="259.5" y="402.15" width="2.50" height="5.2" fill="#5d1b6d"/>
<rect x="262.00" y="411.93" width="7.80" height="5.2" fill="#f6dbe9"/>
<rect x="259.5" y="411.93" width="2.50" height="5.2" fill="#5d1b6d"/>
<rect x="259.5" y="421.71" width="2.50" height="5.2" fill="#5d1b6d"/>
<rect x="261.40" y="431.49" width="6.00" height="5.2" fill="#f6dbe9"/>
<rect x="259.5" y="431.49" width="1.90" height="5.2" fill="#5d1b6d"/>
<rect x="261.40" y="441.27" width="6.00" height="5.2" fill="#f6dbe9"/>
<rect x="259.5" y="441.27" width="1.90" height="5.2" fill="#5d1b6d"/>
<line x1="259.5" y1="37.7" x2="270.8" y2="37.7" stroke="#3c4a44" stroke-width="0.6"/>
<line x1="249.6" y1="33.4" x2="260.0" y2="37.6" stroke="#3c4a44" stroke-width="0.75"/>
<line x1="262.6" y1="33.9" x2="265.6" y2="37.6" stroke="#3c4a44" stroke-width="0.75"/>
<line x1="270.5" y1="33.9" x2="270.5" y2="37.6" stroke="#3c4a44" stroke-width="0.75"/>
<text x="0" y="2.3" font-size="6.6" text-anchor="middle" transform="translate(252.2 29.6) rotate(-42)">0.5</text>
<text x="0" y="2.3" font-size="6.6" text-anchor="middle" transform="translate(262.6 29.0) rotate(-42)">1.0</text>
<text x="0" y="2.3" font-size="6.6" text-anchor="middle" transform="translate(272.6 28.7) rotate(-42)">1.5</text>
<text x="105.90" y="452.2" font-size="7.4" transform="rotate(90 105.90 452.2)">De novo</text>
<text x="113.50" y="452.2" font-size="7.4" transform="rotate(90 113.50 452.2)">Mutation type</text>
<text x="121.10" y="452.2" font-size="7.4" transform="rotate(90 121.10 452.2)">Malignancy</text>
<text x="131.84" y="452.2" font-size="7.4" transform="rotate(90 131.84 452.2)">Seizures</text>
<text x="139.71" y="452.2" font-size="7.4" transform="rotate(90 139.71 452.2)">Dandy-Walker malformation or variant</text>
<text x="147.59" y="452.2" font-size="7.4" transform="rotate(90 147.59 452.2)">Urogenital</text>
<text x="155.46" y="452.2" font-size="7.4" transform="rotate(90 155.46 452.2)">Anal rectal anomaly</text>
<text x="163.34" y="452.2" font-size="7.4" transform="rotate(90 163.34 452.2)">Choanal atresia</text>
<text x="171.21" y="452.2" font-size="7.4" transform="rotate(90 171.21 452.2)">Short stature</text>
<text x="179.09" y="452.2" font-size="7.4" transform="rotate(90 179.09 452.2)">Pigment</text>
<text x="186.96" y="452.2" font-size="7.4" transform="rotate(90 186.96 452.2)">Heart defects</text>
<text x="194.84" y="452.2" font-size="7.4" transform="rotate(90 194.84 452.2)">Abnormality of corpus callosum</text>
<text x="202.71" y="452.2" font-size="7.4" transform="rotate(90 202.71 452.2)">Hypotonia</text>
<text x="210.59" y="452.2" font-size="7.4" transform="rotate(90 210.59 452.2)">Dental</text>
<text x="218.46" y="452.2" font-size="7.4" transform="rotate(90 218.46 452.2)">Ventriculomegaly</text>
<text x="226.34" y="452.2" font-size="7.4" transform="rotate(90 226.34 452.2)">Hearing</text>
<text x="234.21" y="452.2" font-size="7.4" transform="rotate(90 234.21 452.2)">Eye</text>
<text x="242.09" y="452.2" font-size="7.4" transform="rotate(90 242.09 452.2)">ID</text>
<text x="249.96" y="452.2" font-size="7.4" transform="rotate(90 249.96 452.2)">Speech</text>
<path d="M284.6 24 V205 H510.6" fill="none" stroke="#555" stroke-width="1.3"/>
<rect x="395.6" y="67" width="115.4" height="85.8" fill="#eeeef1"/>
<path d="M323 47.2 V159 H510.6" fill="none" stroke="#3a3a3a" stroke-width="1.3"/>
<line x1="320.3" y1="49.8" x2="323" y2="49.8" stroke="#3a3a3a" stroke-width="1"/>
<text x="317.4" y="52.6" font-size="8" text-anchor="end">0.10</text>
<line x1="320.3" y1="71.0" x2="323" y2="71.0" stroke="#3a3a3a" stroke-width="1"/>
<text x="317.4" y="73.8" font-size="8" text-anchor="end">0.08</text>
<line x1="320.3" y1="92.2" x2="323" y2="92.2" stroke="#3a3a3a" stroke-width="1"/>
<text x="317.4" y="95.0" font-size="8" text-anchor="end">0.06</text>
<line x1="320.3" y1="113.4" x2="323" y2="113.4" stroke="#3a3a3a" stroke-width="1"/>
<text x="317.4" y="116.2" font-size="8" text-anchor="end">0.04</text>
<line x1="320.3" y1="134.6" x2="323" y2="134.6" stroke="#3a3a3a" stroke-width="1"/>
<text x="317.4" y="137.4" font-size="8" text-anchor="end">0.02</text>
<line x1="320.3" y1="155.8" x2="323" y2="155.8" stroke="#3a3a3a" stroke-width="1"/>
<text x="317.4" y="158.6" font-size="8" text-anchor="end">0.00</text>
<line x1="326.9" y1="159" x2="326.9" y2="161.5" stroke="#3a3a3a" stroke-width="1"/>
<text x="326.9" y="171.8" font-size="7.4" text-anchor="middle">0</text>
<line x1="362.9" y1="159" x2="362.9" y2="161.5" stroke="#3a3a3a" stroke-width="1"/>
<text x="362.9" y="171.8" font-size="7.4" text-anchor="middle">5</text>
<line x1="398.9" y1="159" x2="398.9" y2="161.5" stroke="#3a3a3a" stroke-width="1"/>
<text x="398.9" y="171.8" font-size="7.4" text-anchor="middle">10</text>
<line x1="434.9" y1="159" x2="434.9" y2="161.5" stroke="#3a3a3a" stroke-width="1"/>
<text x="434.9" y="171.8" font-size="7.4" text-anchor="middle">15</text>
<line x1="470.9" y1="159" x2="470.9" y2="161.5" stroke="#3a3a3a" stroke-width="1"/>
<text x="470.9" y="171.8" font-size="7.4" text-anchor="middle">20</text>
<line x1="506.9" y1="159" x2="506.9" y2="161.5" stroke="#3a3a3a" stroke-width="1"/>
<text x="506.9" y="171.8" font-size="7.4" text-anchor="middle">25</text>
<text x="0" y="0" font-size="8.8" font-weight="bold" text-anchor="middle" transform="translate(416.5 183.6) scale(0.69 1)">Age (years)</text>
<text x="0" y="0" font-size="9.5" font-weight="bold" text-anchor="middle" transform="translate(296 102.8) rotate(-90) scale(0.627 1)">Cumulative incidence of B-ALL</text>
<line x1="329.5" y1="155.3" x2="507" y2="155.3" stroke="#62aecb" stroke-width="1.3"/>
<path d="M348.2 155.3 V125.4 H355.7 V90.2 H377.2 V49.9 H485" fill="none" stroke="#62aecb" stroke-width="1.1" stroke-dasharray="2.4 2.8"/>
<text x="331.8" y="153.9" font-size="8.2" text-anchor="middle">41</text>
<text x="348.5" y="124.4" font-size="8.2" text-anchor="middle">30</text>
<text x="356.3" y="88.4" font-size="8.2" text-anchor="middle">27</text>
<text x="376.0" y="48.9" font-size="8.2" text-anchor="middle">21</text>
<text x="396.0" y="64.8" font-size="7.9" font-style="italic">P</text>
<text x="403.4" y="65.2" font-size="9.6">&lt;</text>
<text x="410.4" y="64.8" font-size="7.6">.0001</text>
<text x="470.4" y="76.4" font-size="7.6" text-anchor="middle">SEER DATA ONLY</text>
<path d="M433.6 81 V128.7 H506.8" fill="none" stroke="#3a3a3a" stroke-width="1.2"/>
<line x1="431" y1="82.2" x2="433.6" y2="82.2" stroke="#3a3a3a" stroke-width="0.9"/>
<text x="427.9" y="85.0" font-size="7.4" text-anchor="end" letter-spacing="0.45">0.00005</text>
<line x1="431" y1="91.4" x2="433.6" y2="91.4" stroke="#3a3a3a" stroke-width="0.9"/>
<text x="427.9" y="94.2" font-size="7.4" text-anchor="end" letter-spacing="0.45">0.00004</text>
<line x1="431" y1="100.6" x2="433.6" y2="100.6" stroke="#3a3a3a" stroke-width="0.9"/>
<text x="427.9" y="103.4" font-size="7.4" text-anchor="end" letter-spacing="0.45">0.00003</text>
<line x1="431" y1="110.0" x2="433.6" y2="110.0" stroke="#3a3a3a" stroke-width="0.9"/>
<text x="427.9" y="112.8" font-size="7.4" text-anchor="end" letter-spacing="0.45">0.00002</text>
<line x1="431" y1="119.3" x2="433.6" y2="119.3" stroke="#3a3a3a" stroke-width="0.9"/>
<text x="427.9" y="122.1" font-size="7.4" text-anchor="end" letter-spacing="0.45">0.00001</text>
<line x1="431" y1="128.5" x2="433.6" y2="128.5" stroke="#3a3a3a" stroke-width="0.9"/>
<text x="427.9" y="131.3" font-size="7.4" text-anchor="end" letter-spacing="0.45">0.0</text>
<line x1="433.5" y1="128.7" x2="433.5" y2="131" stroke="#3a3a3a" stroke-width="0.9"/>
<text x="433.5" y="140.3" font-size="7.3" text-anchor="middle">0</text>
<line x1="446.9" y1="128.7" x2="446.9" y2="131" stroke="#3a3a3a" stroke-width="0.9"/>
<text x="446.9" y="140.3" font-size="7.3" text-anchor="middle">5</text>
<line x1="460.3" y1="128.7" x2="460.3" y2="131" stroke="#3a3a3a" stroke-width="0.9"/>
<text x="460.3" y="140.3" font-size="7.3" text-anchor="middle">10</text>
<line x1="473.7" y1="128.7" x2="473.7" y2="131" stroke="#3a3a3a" stroke-width="0.9"/>
<text x="473.7" y="140.3" font-size="7.3" text-anchor="middle">15</text>
<line x1="487.1" y1="128.7" x2="487.1" y2="131" stroke="#3a3a3a" stroke-width="0.9"/>
<text x="487.1" y="140.3" font-size="7.3" text-anchor="middle">20</text>
<line x1="500.5" y1="128.7" x2="500.5" y2="131" stroke="#3a3a3a" stroke-width="0.9"/>
<text x="500.5" y="140.3" font-size="7.3" text-anchor="middle">25</text>
<text x="0" y="0" font-size="8.8" font-weight="bold" text-anchor="middle" transform="translate(473.5 150.6) scale(0.69 1)">Age (years)</text>
<polyline points="434.8,128.7 436.3,128.7 436.3,127.6 437.8,127.6 437.8,126.5 439.3,126.5 439.3,125.6 440.1,125.6 440.1,123.8 441.5,123.8 441.5,122.7 442.3,122.7 442.3,120.8 443.5,120.8 443.5,119.6 445.2,119.6 445.2,117.6 446.9,116.6 448.5,115.1 450,114.2 451.5,113.1 453,112.3 456.2,110.8 460.8,108.8 465.4,106.9 470,105 476.2,102.5 480,100.6 486.2,97.9 491.1,95.8 495.4,93.9 498.5,91.8 500.9,90.5 501.5,89.0 504.6,88.2 504.6,82.8" fill="none" stroke="#62aecb" stroke-width="1.2"/>
<line x1="361.3" y1="196.8" x2="375" y2="196.8" stroke="#62aecb" stroke-width="1.3"/>
<text x="378.2" y="199.4" font-size="7.4">SEER</text>
<line x1="405" y1="196.8" x2="418.5" y2="196.8" stroke="#62aecb" stroke-width="1.2" stroke-dasharray="3 2.3"/>
<text x="421.2" y="199.4" font-size="7.4">USP9X Cohort</text>
<line x1="423.8" y1="223.9" x2="498.7" y2="223.9" stroke="#3a3a3a" stroke-width="0.9"/>
<line x1="424.3" y1="221.3" x2="424.3" y2="223.9" stroke="#3a3a3a" stroke-width="0.9"/>
<text x="424.3" y="216.7" font-size="7.4" text-anchor="middle">0</text>
<line x1="460.1" y1="221.3" x2="460.1" y2="223.9" stroke="#3a3a3a" stroke-width="0.9"/>
<text x="460.1" y="216.7" font-size="7.4" text-anchor="middle">50</text>
<line x1="495.6" y1="221.3" x2="495.6" y2="223.9" stroke="#3a3a3a" stroke-width="0.9"/>
<text x="495.6" y="216.7" font-size="7.4" text-anchor="middle">100</text>
<rect x="424.3" y="227.40" width="66.20" height="6.1" fill="#5d1b6d"/>
<line x1="291.2" y1="235.40" x2="500.8" y2="235.40" stroke="#4a4a4a" stroke-width="1"/>
<text x="295.7" y="233.30" font-size="7.45">Speech</text>
<rect x="484.9" y="238.13" width="2.80" height="6.1" fill="#f8d0e6"/>
<rect x="424.3" y="238.13" width="60.60" height="6.1" fill="#5d1b6d"/>
<line x1="291.2" y1="246.13" x2="500.8" y2="246.13" stroke="#4a4a4a" stroke-width="1"/>
<text x="295.7" y="244.03" font-size="7.45">ID</text>
<rect x="470.8" y="248.86" width="22.70" height="6.1" fill="#f8d0e6"/>
<rect x="424.3" y="248.86" width="46.50" height="6.1" fill="#5d1b6d"/>
<line x1="291.2" y1="256.86" x2="500.8" y2="256.86" stroke="#4a4a4a" stroke-width="1"/>
<text x="295.7" y="254.76" font-size="7.45">Eye</text>
<rect x="470.8" y="259.59" width="21.50" height="6.1" fill="#f8d0e6"/>
<rect x="424.3" y="259.59" width="46.50" height="6.1" fill="#5d1b6d"/>
<line x1="291.2" y1="267.59" x2="500.8" y2="267.59" stroke="#4a4a4a" stroke-width="1"/>
<text x="295.7" y="265.49" font-size="7.45">Hearing</text>
<rect x="470.8" y="270.32" width="14.10" height="6.1" fill="#f8d0e6"/>
<rect x="424.3" y="270.32" width="46.50" height="6.1" fill="#5d1b6d"/>
<line x1="291.2" y1="278.32" x2="500.8" y2="278.32" stroke="#4a4a4a" stroke-width="1"/>
<text x="295.7" y="276.22" font-size="7.45">Ventriculomegaly</text>
<rect x="468.9" y="281.05" width="23.10" height="6.1" fill="#f8d0e6"/>
<rect x="424.3" y="281.05" width="44.60" height="6.1" fill="#5d1b6d"/>
<line x1="291.2" y1="289.05" x2="500.8" y2="289.05" stroke="#4a4a4a" stroke-width="1"/>
<text x="295.7" y="286.95" font-size="7.45">Dental</text>
<rect x="463.8" y="291.78" width="28.50" height="6.1" fill="#f8d0e6"/>
<rect x="424.3" y="291.78" width="39.50" height="6.1" fill="#5d1b6d"/>
<line x1="291.2" y1="299.78" x2="500.8" y2="299.78" stroke="#4a4a4a" stroke-width="1"/>
<text x="295.7" y="297.68" font-size="7.45">Hypotonia</text>
<rect x="458.2" y="302.51" width="30.30" height="6.1" fill="#f8d0e6"/>
<rect x="424.3" y="302.51" width="33.90" height="6.1" fill="#5d1b6d"/>
<line x1="291.2" y1="310.51" x2="500.8" y2="310.51" stroke="#4a4a4a" stroke-width="1"/>
<text x="295.7" y="308.41" font-size="7.45">Abnormality of corpus callosum</text>
<rect x="458.2" y="313.24" width="37.50" height="6.1" fill="#f8d0e6"/>
<rect x="424.3" y="313.24" width="33.90" height="6.1" fill="#5d1b6d"/>
<line x1="291.2" y1="321.24" x2="500.8" y2="321.24" stroke="#4a4a4a" stroke-width="1"/>
<text x="295.7" y="319.14" font-size="7.45">Heart defects</text>
<rect x="458.2" y="323.97" width="35.60" height="6.1" fill="#f8d0e6"/>
<rect x="424.3" y="323.97" width="33.90" height="6.1" fill="#5d1b6d"/>
<line x1="291.2" y1="331.97" x2="500.8" y2="331.97" stroke="#4a4a4a" stroke-width="1"/>
<text x="295.7" y="329.87" font-size="7.45">Pigment</text>
<rect x="451.1" y="334.70" width="39.40" height="6.1" fill="#f8d0e6"/>
<rect x="424.3" y="334.70" width="26.80" height="6.1" fill="#5d1b6d"/>
<line x1="291.2" y1="342.70" x2="500.8" y2="342.70" stroke="#4a4a4a" stroke-width="1"/>
<text x="295.7" y="340.60" font-size="7.45">Short stature</text>
<rect x="449.2" y="345.43" width="35.40" height="6.1" fill="#f8d0e6"/>
<rect x="424.3" y="345.43" width="24.90" height="6.1" fill="#5d1b6d"/>
<line x1="291.2" y1="353.43" x2="500.8" y2="353.43" stroke="#4a4a4a" stroke-width="1"/>
<text x="295.7" y="351.33" font-size="7.45">Choanal atresia</text>
<rect x="449.2" y="356.16" width="39.30" height="6.1" fill="#f8d0e6"/>
<rect x="424.3" y="356.16" width="24.90" height="6.1" fill="#5d1b6d"/>
<line x1="291.2" y1="364.16" x2="500.8" y2="364.16" stroke="#4a4a4a" stroke-width="1"/>
<text x="295.7" y="362.06" font-size="7.45">Anal rectal anomaly</text>
<rect x="445.8" y="366.89" width="49.90" height="6.1" fill="#f8d0e6"/>
<rect x="424.3" y="366.89" width="21.50" height="6.1" fill="#5d1b6d"/>
<line x1="291.2" y1="374.89" x2="500.8" y2="374.89" stroke="#4a4a4a" stroke-width="1"/>
<text x="295.7" y="372.79" font-size="7.45">Urogenital</text>
<rect x="444.2" y="377.62" width="46.30" height="6.1" fill="#f8d0e6"/>
<rect x="424.3" y="377.62" width="19.90" height="6.1" fill="#5d1b6d"/>
<line x1="291.2" y1="385.62" x2="500.8" y2="385.62" stroke="#4a4a4a" stroke-width="1"/>
<text x="295.7" y="383.52" font-size="7.45">Dandy-Walker malformation or variant</text>
<rect x="438.8" y="388.35" width="55.00" height="6.1" fill="#f8d0e6"/>
<rect x="424.3" y="388.35" width="14.50" height="6.1" fill="#5d1b6d"/>
<line x1="291.2" y1="396.35" x2="500.8" y2="396.35" stroke="#4a4a4a" stroke-width="1"/>
<text x="295.7" y="394.25" font-size="7.45">Seizures</text>
<text x="293.6" y="421.3" font-size="7.2">Features</text>
<rect x="293.3" y="427" width="6.6" height="6.2" fill="#5d1b6d"/>
<text x="303.2" y="432.4" font-size="7.2">Present</text>
<rect x="293.3" y="437.5" width="6.6" height="6.2" fill="#f5cde3"/>
<text x="303.2" y="442.9" font-size="7.2">Absent</text>
<rect x="293.3" y="448" width="6.6" height="6.2" fill="#cbcbce"/>
<text x="303.2" y="453.4" font-size="7.2">Not described</text>
<text x="294" y="467.0" font-size="7.2">De novo</text>
<rect x="294" y="470.2" width="7" height="6.4" fill="#111"/>
<text x="304.8" y="475.8" font-size="7.2">Yes</text>
<rect x="294" y="480.2" width="7" height="6.4" fill="#b6d5ee"/>
<text x="304.8" y="485.8" font-size="7.2">No</text>
<text x="359.8" y="421.5" font-size="7.2">Malignancy</text>
<rect x="360.2" y="427" width="7.6" height="6.5" fill="#111"/>
<text x="371" y="432.7" font-size="7.2">B-ALL</text>
<rect x="360.2" y="437" width="7.6" height="6.5" fill="#4a566c"/>
<text x="371" y="442.7" font-size="7.2">Osteosarcoma</text>
<rect x="360.2" y="447.6" width="7.6" height="6.5" fill="#cbcbce"/>
<text x="371" y="453.3" font-size="7.2">Not described</text>
<text x="436.9" y="421.1" font-size="7.2">Mutation type</text>
<rect x="437" y="426.2" width="7.6" height="6.5" fill="#1c6b4c"/>
<text x="447.7" y="431.9" font-size="7.2">Del of 5' UTR</text>
<rect x="437" y="435.62" width="7.6" height="6.5" fill="#be6b1c"/>
<text x="447.7" y="441.32" font-size="7.2">Deletion (&gt;5 kb)</text>
<rect x="437" y="445.04" width="7.6" height="6.5" fill="#f9c20f"/>
<text x="447.7" y="450.74" font-size="7.2">Frameshift</text>
<rect x="437" y="454.46" width="7.6" height="6.5" fill="#1d4a95"/>
<text x="447.7" y="460.16" font-size="7.2">Inframe deletion</text>
<rect x="437" y="463.88" width="7.6" height="6.5" fill="#c70a2c"/>
<text x="447.7" y="469.58" font-size="7.2">Missense</text>
<rect x="437" y="473.3" width="7.6" height="6.5" fill="#9990cf"/>
<text x="447.7" y="479.0" font-size="7.2">Nonsense</text>
<rect x="437" y="482.72" width="7.6" height="6.5" fill="#3bab37"/>
<text x="447.7" y="488.42" font-size="7.2">Splice site</text>
</g>
<rect x="0.5" y="0.5" width="519" height="583" fill="none" stroke="#4d4d4d" stroke-width="1"/>
</svg>
</body></html>
